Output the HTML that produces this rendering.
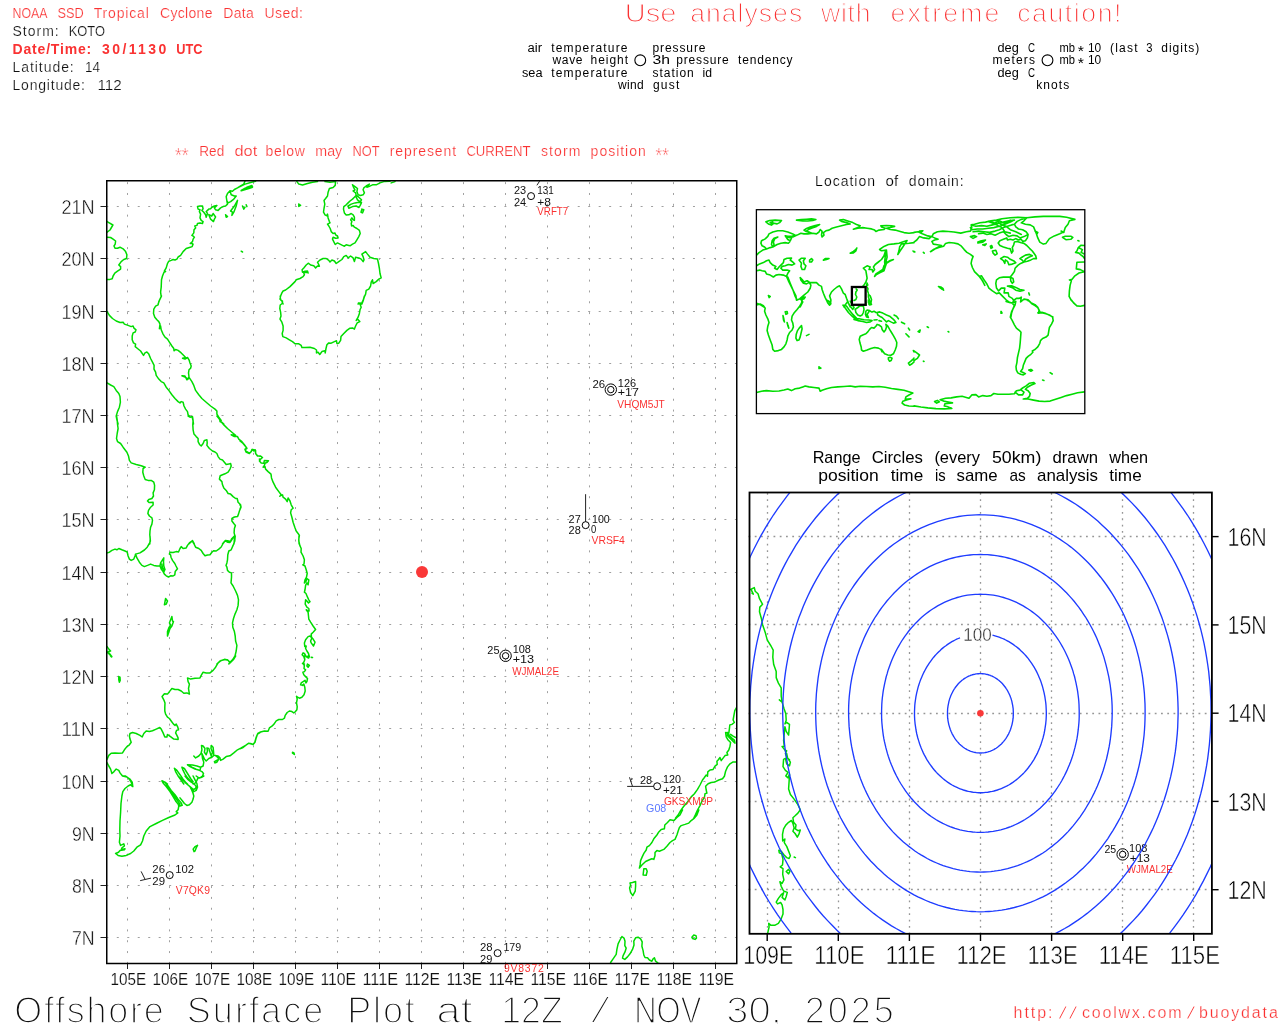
<!DOCTYPE html>
<html lang="en"><head><meta charset="utf-8"><title>Offshore Surface Plot</title>
<style>
html,body{margin:0;padding:0;background:#fff;}
body{width:1280px;height:1024px;overflow:hidden;}
svg{display:block;}
text{font-family:"Liberation Sans",sans-serif;white-space:pre;}
.g{fill:none;stroke:#00dc00;stroke-width:1.5;stroke-linejoin:round;stroke-linecap:round;}
.gw{fill:none;stroke:#00dc00;stroke-width:1.6;stroke-linejoin:round;stroke-linecap:round;}
.dot{fill:none;stroke:#a0a0a0;stroke-width:1;}
.dot2{fill:none;stroke:#969696;stroke-width:1.3;}
.k{fill:none;stroke:#000;}
.b{fill:none;stroke:#1e3cff;stroke-width:1.35;}
</style></head><body>
<svg width="1280" height="1024" viewBox="0 0 1280 1024">
<rect x="0" y="0" width="1280" height="1024" fill="#fff"/>

<g id="header">
<text x="12.5" y="17.5" font-size="14" fill="#fa3232" textLength="35" lengthAdjust="spacingAndGlyphs" stroke="#fff" stroke-width="0.2" paint-order="fill stroke" style="paint-order:fill stroke">NOAA</text>
<text x="57.5" y="17.5" font-size="14" fill="#fa3232" textLength="26.25" lengthAdjust="spacingAndGlyphs" stroke="#fff" stroke-width="0.2" paint-order="fill stroke" style="paint-order:fill stroke">SSD</text>
<text x="93.75" y="17.5" font-size="14" fill="#fa3232" textLength="55" lengthAdjust="spacing" stroke="#fff" stroke-width="0.2" paint-order="fill stroke" style="paint-order:fill stroke">Tropical</text>
<text x="160" y="17.5" font-size="14" fill="#fa3232" textLength="52.5" lengthAdjust="spacing" stroke="#fff" stroke-width="0.2" paint-order="fill stroke" style="paint-order:fill stroke">Cyclone</text>
<text x="223.25" y="17.5" font-size="14" fill="#fa3232" textLength="30.5" lengthAdjust="spacing" stroke="#fff" stroke-width="0.2" paint-order="fill stroke" style="paint-order:fill stroke">Data</text>
<text x="264.5" y="17.5" font-size="14" fill="#fa3232" textLength="38.5" lengthAdjust="spacing" stroke="#fff" stroke-width="0.2" paint-order="fill stroke" style="paint-order:fill stroke">Used:</text>
<text x="12.5" y="35.5" font-size="14" fill="#111" textLength="46.25" lengthAdjust="spacing" stroke="#fff" stroke-width="0.2" paint-order="fill stroke" style="paint-order:fill stroke">Storm:</text>
<text x="68.75" y="35.5" font-size="14" fill="#111" textLength="36.25" lengthAdjust="spacingAndGlyphs" stroke="#fff" stroke-width="0.2" paint-order="fill stroke" style="paint-order:fill stroke">KOTO</text>
<text x="12.5" y="53.6" font-size="14" fill="#fa3232" textLength="78.75" lengthAdjust="spacing" font-weight="bold">Date/Time:</text>
<text x="102" y="53.6" font-size="14" fill="#fa3232" textLength="64.25" lengthAdjust="spacing" font-weight="bold">30/1130</text>
<text x="176.25" y="53.6" font-size="14" fill="#fa3232" textLength="26.25" lengthAdjust="spacingAndGlyphs" font-weight="bold">UTC</text>
<text x="12.5" y="71.6" font-size="14" fill="#111" textLength="61.25" lengthAdjust="spacing" stroke="#fff" stroke-width="0.2" paint-order="fill stroke" style="paint-order:fill stroke">Latitude:</text>
<text x="85" y="71.6" font-size="14" fill="#111" textLength="15" lengthAdjust="spacingAndGlyphs" stroke="#fff" stroke-width="0.2" paint-order="fill stroke" style="paint-order:fill stroke">14</text>
<text x="12.5" y="89.5" font-size="14" fill="#111" textLength="72.5" lengthAdjust="spacing" stroke="#fff" stroke-width="0.2" paint-order="fill stroke" style="paint-order:fill stroke">Longitude:</text>
<text x="97.5" y="89.5" font-size="14" fill="#111" textLength="24.25" lengthAdjust="spacingAndGlyphs" stroke="#fff" stroke-width="0.2" paint-order="fill stroke" style="paint-order:fill stroke">112</text>
<text x="624.8" y="21.7" font-size="26.6" fill="#fa3232" textLength="51.7" lengthAdjust="spacingAndGlyphs" stroke="#fff" stroke-width="1.15" paint-order="fill stroke" style="paint-order:fill stroke">Use</text>
<text x="690.2" y="21.7" font-size="26.6" fill="#fa3232" textLength="112" lengthAdjust="spacing" stroke="#fff" stroke-width="1.15" paint-order="fill stroke" style="paint-order:fill stroke">analyses</text>
<text x="821" y="21.7" font-size="26.6" fill="#fa3232" textLength="49.5" lengthAdjust="spacing" stroke="#fff" stroke-width="1.15" paint-order="fill stroke" style="paint-order:fill stroke">with</text>
<text x="890.5" y="21.7" font-size="26.6" fill="#fa3232" textLength="108.7" lengthAdjust="spacing" stroke="#fff" stroke-width="1.15" paint-order="fill stroke" style="paint-order:fill stroke">extreme</text>
<text x="1017.2" y="21.7" font-size="26.6" fill="#fa3232" textLength="104.3" lengthAdjust="spacing" stroke="#fff" stroke-width="1.15" paint-order="fill stroke" style="paint-order:fill stroke">caution!</text>
<text x="527.5" y="52.3" font-size="12" fill="#000" textLength="14.5" lengthAdjust="spacingAndGlyphs">air</text>
<text x="551.25" y="52.3" font-size="12" fill="#000" textLength="76.25" lengthAdjust="spacing">temperature</text>
<text x="652.5" y="52.3" font-size="12" fill="#000" textLength="53" lengthAdjust="spacing">pressure</text>
<text x="552.5" y="64.3" font-size="12" fill="#000" textLength="30" lengthAdjust="spacing">wave</text>
<text x="590.5" y="64.3" font-size="12" fill="#000" textLength="37.5" lengthAdjust="spacing">height</text>
<text x="652.5" y="64.3" font-size="12" fill="#000" textLength="17.5" lengthAdjust="spacingAndGlyphs">3h</text>
<text x="676.25" y="64.3" font-size="12" fill="#000" textLength="52.5" lengthAdjust="spacing">pressure</text>
<text x="738" y="64.3" font-size="12" fill="#000" textLength="54.5" lengthAdjust="spacing">tendency</text>
<text x="522" y="76.5" font-size="12" fill="#000" textLength="20.5" lengthAdjust="spacingAndGlyphs">sea</text>
<text x="551.25" y="76.5" font-size="12" fill="#000" textLength="76.25" lengthAdjust="spacing">temperature</text>
<text x="652.5" y="76.5" font-size="12" fill="#000" textLength="41.25" lengthAdjust="spacing">station</text>
<text x="702.5" y="76.5" font-size="12" fill="#000" textLength="9.5" lengthAdjust="spacingAndGlyphs">id</text>
<text x="618" y="88.5" font-size="12" fill="#000" textLength="25.75" lengthAdjust="spacing">wind</text>
<text x="653" y="88.5" font-size="12" fill="#000" textLength="26.25" lengthAdjust="spacing">gust</text>
<circle cx="640.25" cy="60.3" r="5.4" class="k" stroke-width="1.1"/>
<text x="997.5" y="52.3" font-size="12" fill="#000" textLength="21.25" lengthAdjust="spacingAndGlyphs">deg</text>
<text x="1028" y="52.3" font-size="12" fill="#000" textLength="7" lengthAdjust="spacingAndGlyphs">C</text>
<text x="1059.5" y="52.3" font-size="12" fill="#000" textLength="15.5" lengthAdjust="spacingAndGlyphs">mb</text>
<text x="1088" y="52.3" font-size="12" fill="#000" textLength="13.25" lengthAdjust="spacingAndGlyphs">10</text>
<text x="1110" y="52.3" font-size="12" fill="#000" textLength="27.5" lengthAdjust="spacing">(last</text>
<text x="1146.25" y="52.3" font-size="12" fill="#000" textLength="6.25" lengthAdjust="spacingAndGlyphs">3</text>
<text x="1161.25" y="52.3" font-size="12" fill="#000" textLength="38" lengthAdjust="spacing">digits)</text>
<text x="992.5" y="64.3" font-size="12" fill="#000" textLength="42.5" lengthAdjust="spacing">meters</text>
<text x="1059.5" y="64.3" font-size="12" fill="#000" textLength="15.5" lengthAdjust="spacingAndGlyphs">mb</text>
<text x="1088" y="64.3" font-size="12" fill="#000" textLength="13.25" lengthAdjust="spacingAndGlyphs">10</text>
<text x="1077.8" y="56.1" font-size="14.7" fill="#000" textLength="6.2" lengthAdjust="spacingAndGlyphs">*</text>
<text x="1077.8" y="68.1" font-size="14.7" fill="#000" textLength="6.2" lengthAdjust="spacingAndGlyphs">*</text>
<text x="997.5" y="76.5" font-size="12" fill="#000" textLength="21.25" lengthAdjust="spacingAndGlyphs">deg</text>
<text x="1028" y="76.5" font-size="12" fill="#000" textLength="7" lengthAdjust="spacingAndGlyphs">C</text>
<text x="1036.25" y="88.5" font-size="12" fill="#000" textLength="33" lengthAdjust="spacing">knots</text>
<circle cx="1047.5" cy="60.3" r="5.4" class="k" stroke-width="1.1"/>
<text x="175" y="162.2" font-size="20.5" fill="#fa3232" textLength="13.75" lengthAdjust="spacingAndGlyphs" stroke="#fff" stroke-width="0.5" paint-order="fill stroke" style="paint-order:fill stroke">**</text>
<text x="655.6" y="162.2" font-size="20.5" fill="#fa3232" textLength="13.4" lengthAdjust="spacingAndGlyphs" stroke="#fff" stroke-width="0.5" paint-order="fill stroke" style="paint-order:fill stroke">**</text>
<text x="199.3" y="155.9" font-size="14" fill="#fa3232" textLength="24.9" lengthAdjust="spacingAndGlyphs" stroke="#fff" stroke-width="0.2" paint-order="fill stroke" style="paint-order:fill stroke">Red</text>
<text x="234.5" y="155.9" font-size="14" fill="#fa3232" textLength="22.8" lengthAdjust="spacingAndGlyphs" stroke="#fff" stroke-width="0.2" paint-order="fill stroke" style="paint-order:fill stroke">dot</text>
<text x="265.6" y="155.9" font-size="14" fill="#fa3232" textLength="39.3" lengthAdjust="spacing" stroke="#fff" stroke-width="0.2" paint-order="fill stroke" style="paint-order:fill stroke">below</text>
<text x="315.3" y="155.9" font-size="14" fill="#fa3232" textLength="26.9" lengthAdjust="spacingAndGlyphs" stroke="#fff" stroke-width="0.2" paint-order="fill stroke" style="paint-order:fill stroke">may</text>
<text x="352.5" y="155.9" font-size="14" fill="#fa3232" textLength="27" lengthAdjust="spacingAndGlyphs" stroke="#fff" stroke-width="0.2" paint-order="fill stroke" style="paint-order:fill stroke">NOT</text>
<text x="389.8" y="155.9" font-size="14" fill="#fa3232" textLength="66.3" lengthAdjust="spacing" stroke="#fff" stroke-width="0.2" paint-order="fill stroke" style="paint-order:fill stroke">represent</text>
<text x="466.4" y="155.9" font-size="14" fill="#fa3232" textLength="64.2" lengthAdjust="spacingAndGlyphs" stroke="#fff" stroke-width="0.2" paint-order="fill stroke" style="paint-order:fill stroke">CURRENT</text>
<text x="541" y="155.9" font-size="14" fill="#fa3232" textLength="39.3" lengthAdjust="spacing" stroke="#fff" stroke-width="0.2" paint-order="fill stroke" style="paint-order:fill stroke">storm</text>
<text x="590.6" y="155.9" font-size="14" fill="#fa3232" textLength="55.2" lengthAdjust="spacing" stroke="#fff" stroke-width="0.2" paint-order="fill stroke" style="paint-order:fill stroke">position</text>
<text x="815.1" y="186" font-size="14" fill="#000" textLength="59.9" lengthAdjust="spacing" stroke="#fff" stroke-width="0.2" paint-order="fill stroke" style="paint-order:fill stroke">Location</text>
<text x="885.6" y="186" font-size="14" fill="#000" textLength="12.6" lengthAdjust="spacingAndGlyphs" stroke="#fff" stroke-width="0.2" paint-order="fill stroke" style="paint-order:fill stroke">of</text>
<text x="908.8" y="186" font-size="14" fill="#000" textLength="54.8" lengthAdjust="spacing" stroke="#fff" stroke-width="0.2" paint-order="fill stroke" style="paint-order:fill stroke">domain:</text>
</g>
<defs><clipPath id="cm"><rect x="106.75" y="180.75" width="630" height="782.75"/></clipPath>
<clipPath id="cr"><rect x="749.5" y="492.5" width="462.4" height="441.3"/></clipPath>
<clipPath id="cw"><rect x="756.4" y="209.7" width="328.4" height="203.9"/></clipPath></defs>
<g id="maingrid" class="dot">
<path d="M106.32 937.5H736" stroke-dasharray="2 8.476"/>
<path d="M106.32 885.5H736" stroke-dasharray="2 8.476"/>
<path d="M106.32 833.5H736" stroke-dasharray="2 8.476"/>
<path d="M106.32 781.5H736" stroke-dasharray="2 8.476"/>
<path d="M106.32 728.5H736" stroke-dasharray="2 8.476"/>
<path d="M106.32 676.5H736" stroke-dasharray="2 8.476"/>
<path d="M106.32 624.5H736" stroke-dasharray="2 8.476"/>
<path d="M106.32 572.5H736" stroke-dasharray="2 8.476"/>
<path d="M106.32 519.5H736" stroke-dasharray="2 8.476"/>
<path d="M106.32 467.5H736" stroke-dasharray="2 8.476"/>
<path d="M106.32 415.5H736" stroke-dasharray="2 8.476"/>
<path d="M106.32 363.5H736" stroke-dasharray="2 8.476"/>
<path d="M106.32 311.5H736" stroke-dasharray="2 8.476"/>
<path d="M106.32 258.5H736" stroke-dasharray="2 8.476"/>
<path d="M106.32 206.5H736" stroke-dasharray="2 8.476"/>
<path d="M127.5 963.9V180" stroke-dasharray="2 8.83" stroke-dashoffset="0"/>
<path d="M169.5 963.9V180" stroke-dasharray="2 8.83" stroke-dashoffset="0"/>
<path d="M211.5 963.9V180" stroke-dasharray="2 8.83" stroke-dashoffset="0"/>
<path d="M253.5 963.9V180" stroke-dasharray="2 8.83" stroke-dashoffset="0"/>
<path d="M295.5 963.9V180" stroke-dasharray="2 8.83" stroke-dashoffset="0"/>
<path d="M337.5 963.9V180" stroke-dasharray="2 8.83" stroke-dashoffset="0"/>
<path d="M379.5 963.9V180" stroke-dasharray="2 8.83" stroke-dashoffset="0"/>
<path d="M421.5 963.9V180" stroke-dasharray="2 8.83" stroke-dashoffset="0"/>
<path d="M463.5 963.9V180" stroke-dasharray="2 8.83" stroke-dashoffset="0"/>
<path d="M505.5 963.9V180" stroke-dasharray="2 8.83" stroke-dashoffset="0"/>
<path d="M547.5 963.9V180" stroke-dasharray="2 8.83" stroke-dashoffset="0"/>
<path d="M589.5 963.9V180" stroke-dasharray="2 8.83" stroke-dashoffset="0"/>
<path d="M631.5 963.9V180" stroke-dasharray="2 8.83" stroke-dashoffset="0"/>
<path d="M673.5 963.9V180" stroke-dasharray="2 8.83" stroke-dashoffset="0"/>
<path d="M715.5 963.9V180" stroke-dasharray="2 8.83" stroke-dashoffset="0"/>
</g>
<g id="maincoast" clip-path="url(#cm)">
<path class="g" d="M107.1 221.6L112.9 225.0L110.0 230.0L107.1 232.2M107.1 237.2L110.6 237.5L113.1 239.1L115.6 241.0L115.2 244.1L114.0 246.0L115.0 248.2L117.5 248.2L120.0 247.2L123.1 248.8L125.6 251.6L126.9 254.8L126.5 258.5L123.8 259.5L121.2 261.6L118.8 265.0L120.6 266.6L120.6 269.1L117.5 271.2L114.8 273.2L113.1 276.0L112.2 278.8L110.0 279.4L107.1 279.4M158.1 304.0L159.4 300.4L161.2 296.6L160.6 292.2L161.2 287.2L161.5 279.8L162.5 276.0L164.0 272.2L165.6 271.6L164.4 271.0L166.2 267.9L167.5 263.5L168.8 261.2L171.2 260.4L173.1 259.5L175.0 260.0L176.9 259.1L178.1 257.0L180.6 255.4L183.1 251.6L186.2 248.5L189.4 247.5L192.2 246.6L193.1 244.1L191.9 243.5L190.2 243.5L192.5 241.6L193.1 239.1L194.4 237.2L193.1 236.0L191.9 235.4L193.8 232.9L194.0 229.8L195.6 227.9L194.8 226.0L196.9 225.4L197.5 223.5L200.0 222.9L202.5 223.5L203.1 221.6L201.2 220.4L200.0 217.9L200.6 214.1L199.4 211.6L200.0 209.8L198.1 209.1L197.5 206.6L200.0 206.0L202.5 206.0L203.1 208.8L201.9 210.4L203.8 212.2L205.6 214.8L206.2 217.2L207.5 213.5L206.2 211.6L208.8 209.1L210.6 208.8L211.9 207.2L214.4 206.0L216.9 205.4L214.4 207.9L215.6 209.8L218.1 210.4L220.6 207.9L223.1 206.6L225.6 206.0L227.5 204.1L226.9 201.0L226.2 196.6L227.5 193.5L230.0 190.8L232.5 191.2L234.4 189.5L237.5 187.9L240.6 186.0L243.8 184.1L245.0 181.0M208.8 214.8L211.9 216.0L213.1 213.5L215.6 217.0L214.4 219.1L213.5 221.6L210.6 219.1L208.8 214.8M230.0 190.8L231.2 194.8L234.4 196.0L236.2 196.0L233.8 199.1L230.6 201.6L228.1 202.9L226.9 201.0M237.5 200.4L236.2 206.0L233.8 212.2L231.9 215.4L232.5 212.2L230.6 211.0L234.4 206.0L237.5 200.4M225.6 214.8L227.5 216.6L226.2 217.2L225.6 214.8M242.5 206.0L243.8 209.1L245.0 207.2M246.2 204.8L246.9 206.6M241.2 190.4L245.6 187.9L247.5 188.5L243.8 190.0L241.2 190.4M246.9 187.2L251.9 185.4L252.5 187.2L248.8 188.5L246.9 187.2M241.2 251.2L242.5 252.0M240.0 186.6L245.0 184.1L252.5 182.0L255.6 181.2M241.2 190.8L246.2 188.2L252.5 186.6L248.8 188.5L241.2 190.8M298.8 204.1L300.6 205.4L298.8 206.4L298.8 204.1M296.9 181.6L298.8 184.1L302.5 185.0L307.5 183.5L312.5 182.2L317.5 181.6M325.0 181.6L330.0 182.2L335.6 181.6L335.2 185.4L333.1 187.5L329.4 188.5L328.1 192.2L327.5 196.0L325.6 198.5L324.0 200.4L324.8 204.1L324.0 208.5L323.5 212.2L325.0 214.8L326.9 215.8L327.5 214.1L328.1 217.9L329.4 221.6L330.0 222.9L327.5 224.1L328.8 226.0L330.2 228.5L331.2 231.6L333.1 233.5L335.0 232.9L335.6 234.8L337.5 236.0L338.1 237.9L335.6 238.2L333.1 237.2L332.5 239.1L334.0 242.2L335.2 244.5L337.5 242.9L340.0 244.1L342.5 245.4L344.4 246.2L346.2 244.8L348.8 245.4L350.0 245.8L352.5 244.1L355.0 242.9L356.9 239.8L358.8 236.6L360.2 233.5L359.4 230.4L356.9 228.5L354.4 227.2L353.1 225.4L351.6 226.0L351.2 223.5L351.9 221.6L350.6 219.8L351.9 217.9L353.1 219.8L354.4 220.4L354.4 217.2L353.1 214.8L351.2 213.5L348.8 214.8L346.2 215.0L344.4 212.9L343.5 209.1L343.8 206.6L346.2 204.8L348.1 202.9L350.0 201.0L352.5 199.1L354.4 197.2L356.2 195.4L355.6 192.9L353.1 191.0L355.0 189.8L353.8 187.9L352.5 184.8L355.0 186.6L357.5 188.5L356.9 191.6L358.1 194.8L360.6 195.4L363.1 194.8L364.4 192.9L363.1 189.8L363.8 187.9L366.2 186.0L369.4 184.1L366.9 187.2L368.8 186.6L372.5 184.8L376.2 184.8L380.0 182.9L383.8 181.6M356.2 195.4L358.8 197.2L361.5 199.8L360.2 201.9L357.5 199.8L356.2 197.2M348.1 206.0L351.2 204.1L355.0 202.9L358.8 202.2L361.5 202.6L360.2 205.4L359.0 207.5L356.2 206.0L352.5 206.6L348.8 208.2L348.1 206.0M361.9 209.1L363.8 209.8L362.5 212.9L361.0 212.2L361.9 209.1M385.0 181.6L390.0 181.2M391.2 182.9L395.0 181.6M283.1 304.0L281.9 301.0L280.0 299.1L280.6 296.0L281.9 292.9L283.1 291.0L285.6 290.0L290.0 286.6L295.0 281.6L296.2 279.8L300.0 278.5L303.1 276.6L304.4 274.8L303.8 272.9L306.2 272.2L308.1 272.9L307.5 271.0L305.0 271.2L302.5 272.2L302.1 269.8L303.8 267.9L306.2 265.0L308.5 263.2L310.6 265.0L313.8 265.8L315.6 267.9L317.5 266.0L319.4 266.2L318.5 264.1L317.5 262.2L320.0 260.0L323.1 258.5L326.2 258.5L328.8 260.4L330.0 262.0L331.9 260.0L334.4 261.0L336.2 263.5L338.8 261.6L341.9 259.5L343.8 256.6L346.2 255.4L348.1 257.9L350.6 256.0L353.1 257.9L354.4 261.6L355.6 257.2L358.8 257.9L361.2 259.1L363.1 261.6L364.0 259.8L363.1 256.6L361.9 254.1L365.6 251.6L367.5 254.1L370.0 257.2L373.8 258.5L377.5 259.1L378.5 263.5L379.4 268.5L380.0 273.5L381.2 277.9L378.8 279.1L376.2 281.6L373.1 283.5L372.5 279.8L371.2 282.2L370.6 286.0L368.8 289.1L366.2 290.4L365.6 294.1L364.4 296.6L363.1 301.0L361.9 304.0M358.1 304.0L360.0 302.9L361.9 304.0M161.5 296.0L160.0 299.1L158.8 301.6L158.1 304.8L155.6 306.2L153.8 309.1L153.5 313.5L154.8 317.2L156.9 319.8L158.8 321.6L160.0 324.1L159.4 328.8L160.6 326.0L161.2 329.8L163.1 334.1L165.0 337.2L167.5 339.1L169.4 342.2L171.9 346.0L173.8 348.5L174.0 350.8L175.6 349.5L178.1 350.4L181.2 352.9L184.0 355.8L185.6 357.5L182.5 358.2L185.0 359.1L187.5 357.5L189.0 359.8L190.0 362.9L191.2 366.0L190.6 368.2L189.0 369.8L188.5 372.9L189.0 377.0L187.5 379.1L185.6 377.2L181.9 375.8L185.0 376.0L186.9 379.8L189.4 377.9L191.9 381.6L193.8 385.4L195.6 390.4L198.8 394.8L201.9 398.5L206.2 402.2L210.6 406.0L215.0 409.1L216.9 411.0L216.9 414.1L218.8 417.2L221.2 420.4L220.0 421.6L221.9 422.2L223.8 424.0M107.1 311.6L109.4 315.4L112.5 318.5L116.2 321.0L120.0 322.5L123.1 322.2L124.4 324.1L128.1 325.4L131.2 326.6L133.1 326.0L134.0 328.2L136.0 329.8L135.2 332.0L133.1 332.9L132.2 336.0L132.2 339.8L133.5 342.9L135.6 344.1L135.2 346.6L137.5 348.5L140.6 351.0L143.5 355.4L145.0 352.9L146.9 352.0L148.8 354.1L150.6 358.5L152.5 362.2L154.1 365.4L154.0 369.1L155.6 372.2L156.2 375.4L158.8 379.1L161.2 381.6L163.8 382.9L166.2 387.2L168.8 390.4L171.9 394.8L175.0 398.5L178.1 401.6L180.0 402.9L181.2 401.6L183.1 402.2L184.0 406.0L185.6 409.1L187.5 411.6L188.1 414.8L190.0 416.6L192.2 417.2L193.1 421.0L193.5 424.0M107.1 382.9L110.6 385.0L113.8 386.6L116.2 390.4L118.8 393.5L120.0 396.6L120.4 402.2L119.4 407.2L117.5 411.6L116.2 416.0L116.9 419.8L118.1 424.0M280.2 296.0L280.6 299.8L282.5 301.2L282.2 303.5L280.2 305.0L279.8 308.5L280.6 312.2L281.0 316.0L280.0 319.1L281.9 322.2L283.1 326.0L283.1 330.4L282.2 333.5L282.8 336.6L286.2 337.9L289.4 339.8L292.5 341.6L295.0 343.8L298.8 343.8L301.2 345.4L301.9 347.5L305.0 347.5L310.0 347.2L314.4 348.5L316.5 350.0L316.5 352.9L318.1 352.2L319.8 354.5L321.9 351.6L325.0 350.8L325.2 352.9L326.0 348.5L326.9 344.8L328.8 342.9L331.2 343.2L334.4 341.6L336.5 340.8L336.9 343.5L338.8 343.2L340.6 340.4L341.0 336.6L343.8 333.5L346.9 330.4L350.0 328.2L352.5 327.9L354.4 329.1L355.6 326.0L357.2 322.9L359.8 321.6L357.5 319.1L356.2 320.4L358.1 317.2L359.4 313.5L360.0 309.8L361.2 307.2L360.0 304.1L358.5 302.9L361.2 304.1L363.1 300.4L364.4 296.0M116.6 416.0L117.2 419.8L117.5 424.1L118.1 428.5L117.2 433.5L116.5 438.5L117.5 441.6L120.6 443.5L123.1 447.2L126.9 452.2L128.5 456.0L129.4 460.4L131.2 462.9L136.2 464.5L141.2 465.8L145.2 467.2L143.1 468.5L142.8 472.2L143.8 476.0L145.2 479.5L148.1 480.4L151.2 480.4L153.8 482.2L154.6 485.4L154.4 489.8L153.1 492.9L153.5 496.0L151.9 498.5L148.8 499.5L147.5 501.0L149.0 502.5L153.1 502.2L153.1 505.0L150.6 507.2L148.5 510.4L147.9 513.5L149.4 516.0L151.9 517.9L152.5 520.4L151.9 524.1L150.6 527.2L150.0 531.0L149.8 534.8L150.2 539.1L149.8 544.0M188.1 416.0L190.0 417.2L192.5 416.6L193.1 420.4L192.8 424.8L193.1 429.8L194.0 434.1L196.2 436.6L198.1 438.5L198.1 441.6L199.8 444.8L201.2 446.0L203.1 443.5L204.4 440.4L206.9 439.8L207.2 442.9L206.9 445.4L209.4 448.5L212.5 451.0L215.0 452.0L216.9 453.5L218.1 456.6L220.0 459.1L222.5 460.0L224.4 462.2L226.2 464.5L228.8 464.1L230.6 463.5L231.2 466.0L230.0 469.1L228.1 472.2L225.0 473.8L221.9 475.0L220.2 475.8L219.4 479.1L221.9 481.6L222.5 484.8L223.8 487.9L226.2 490.4L228.1 493.5L230.6 494.1L233.1 496.6L235.6 498.5L237.2 498.5L238.1 502.2L240.6 504.8L241.0 507.2L239.4 511.0L238.5 514.1L237.5 516.6L234.4 517.0L231.9 518.5L231.9 521.0L233.8 523.5L235.4 525.4L234.4 528.5L234.1 532.9L235.0 536.0L234.4 539.1L234.0 544.0M235.0 536.0L232.5 538.5L230.6 541.6L228.8 541.0L225.6 540.4L223.8 542.2L222.5 544.0M188.8 544.0L192.5 540.6L193.8 542.9L194.4 544.0M216.9 416.0L219.4 419.1L220.6 422.0L220.0 420.4L223.1 424.1L227.5 428.5L231.9 432.2L235.6 435.4L231.2 434.8L234.4 436.6L237.5 436.6L238.8 439.1L241.9 441.6L244.4 444.8L246.9 448.2L245.0 449.1L245.6 451.0L249.4 453.2L251.2 451.6L251.9 449.5L254.4 449.8L255.6 450.4L255.6 453.5L257.5 455.8L260.0 456.2M259.4 459.1L260.0 461.6M240.0 441.0L243.1 443.5L245.6 446.6L246.9 448.5L245.0 449.5L246.0 452.0L249.4 453.5L251.2 451.6L252.1 449.5L253.8 451.0L255.2 449.8L255.6 453.5L257.5 456.0L260.6 456.0L262.5 457.5L260.6 459.1L259.4 461.0L261.2 462.9L263.8 463.2L264.4 460.4L268.5 460.8L267.2 462.2L265.0 463.2L264.4 465.4L263.1 467.2L265.0 466.6L265.6 469.1L268.1 471.6L271.0 474.1L271.5 477.9L273.1 482.2L275.6 487.2L278.8 491.6L281.2 494.8L279.8 496.2L282.5 494.8L283.1 497.2L285.6 499.1L287.2 501.6L288.1 497.9L290.0 501.0L291.2 504.8L293.1 508.2L291.2 509.8L290.6 512.9L291.9 517.2L293.1 522.2L294.8 527.2L296.2 531.0L298.1 533.5L299.4 535.4L298.8 539.1L299.1 544.0M240.0 504.8L241.0 506.6L240.0 509.1M107.1 552.9L109.4 552.2L111.9 550.4L115.0 549.1L116.9 549.8L118.8 548.5L121.9 549.8L125.0 551.0L127.2 552.0L128.1 556.0L129.4 559.1L131.2 560.4L133.8 559.1L135.0 556.0L135.6 554.1L140.0 552.9L144.4 550.0L147.2 547.2L149.4 543.5L150.4 541.0L150.0 536.0M135.6 554.1L136.9 557.9L139.4 562.2L141.9 565.4L144.4 566.6L147.5 565.4L150.6 564.1L153.8 565.4L156.9 566.0L160.0 566.0L160.6 562.9L162.5 559.8L163.8 557.9L163.5 561.6L163.8 566.0L165.0 569.8L163.1 571.6L161.2 569.1L160.0 566.0M161.9 564.1L162.5 567.9L164.4 570.4L163.8 572.2L161.9 569.8L161.9 564.1M163.1 571.6L164.4 574.1L166.2 575.8L168.5 577.0L170.6 575.8L173.1 576.0L174.8 574.8L175.2 571.6L177.5 568.8L176.0 566.0L174.8 563.5L172.5 560.4L171.0 557.2L170.6 554.8L169.4 554.1L170.0 552.2L173.1 552.5L176.2 551.6L178.5 552.0L180.0 548.5L181.2 546.6L183.1 548.5L186.2 547.9L187.5 545.4L189.4 542.9L192.2 540.8L193.8 543.5L195.6 547.2L198.8 548.5L201.2 550.4L203.1 553.5L205.0 555.8L207.5 555.0L210.0 554.8L211.9 552.2L213.5 550.8L216.2 551.0L218.8 549.1L221.2 547.0L223.1 543.5L225.2 540.8L227.5 542.2L230.0 542.5L231.5 539.1L234.4 536.0M235.2 536.0L234.8 541.0L233.1 545.4L231.2 549.8L228.8 551.0L227.8 554.8L227.5 559.8L226.9 562.9L226.0 565.4L226.9 567.2L227.5 570.4L229.4 572.2L231.5 572.9L231.5 577.2L231.0 582.9L233.1 586.0L235.6 591.0L237.5 595.4L238.5 599.8L238.1 605.4L236.9 609.8L235.0 614.1L233.5 618.5L232.5 622.9L232.8 627.2L234.4 631.6L235.2 636.0L235.6 641.0L236.9 645.4L236.2 651.0L235.0 656.0L232.5 659.8L230.0 662.2L228.8 664.0M216.9 664.0L220.0 661.0L224.4 659.5L227.5 659.8L230.0 662.2M165.6 598.5L167.5 601.0L166.2 604.1L164.4 604.8L165.6 598.5M171.9 616.6L172.5 621.0L173.5 621.6L171.9 626.0L170.0 628.5L168.8 632.2L167.5 636.0L167.5 631.6L168.8 627.9L170.6 624.8L169.4 622.9L170.6 619.8L171.9 616.6M107.1 646.6L108.8 649.1L110.6 651.0L108.1 651.6L110.0 654.1L111.9 656.6L109.4 654.1L107.1 652.2M299.0 536.0L298.8 541.0L299.8 545.4L301.2 548.5L301.0 552.2L303.1 556.0L304.4 559.8L304.0 564.1L302.8 564.8L305.0 566.0L306.2 569.8L307.2 573.5L306.5 577.2L305.0 579.8L304.4 582.9L306.2 581.0L306.9 578.5L308.8 579.8L308.1 584.8L306.9 582.9L305.6 585.4L305.0 589.8L304.4 592.2L306.0 593.5L307.5 597.2L308.8 599.8L310.0 601.6L308.5 602.9L306.9 601.0L305.6 599.8L305.2 604.1L306.9 607.2L308.8 608.5L309.1 611.0L307.5 610.4L306.2 609.8L308.1 612.2L308.5 616.0L308.8 619.1L310.6 622.2L313.1 626.0L315.6 629.5L313.1 632.2L311.2 634.1L311.5 637.2L313.1 639.1L315.0 642.2L313.5 646.0L311.2 642.9L310.6 641.0L311.9 637.9L310.0 636.0L308.1 636.6L305.6 639.8L304.4 642.9L304.8 646.6L306.2 646.0L305.6 648.5L306.9 651.0L308.5 653.5L309.4 656.6L308.1 657.9L306.2 656.6L304.4 653.5L303.1 652.9L302.1 654.8L303.8 656.6L304.8 659.8L303.8 662.2L302.5 663.5L304.4 664.0M311.2 657.2L312.5 657.5M235.6 656.0L233.8 659.1L230.0 662.9L228.1 660.4L225.0 659.5L221.2 660.4L218.1 662.9L215.6 667.2L213.1 670.4L210.0 672.9L206.2 672.9L203.1 672.2L201.2 675.4L200.0 677.9L195.0 678.2L190.6 679.1L187.5 677.9L188.1 681.6L189.4 684.1L188.5 688.5L189.0 691.6L189.4 694.1L186.9 692.9L183.8 693.2L181.2 691.0L178.1 689.5L175.0 689.5L171.9 688.5L169.4 691.6L167.5 694.1L164.4 693.8L162.1 696.6L163.8 699.8L165.0 702.9L164.8 707.2L164.8 711.0L165.6 714.1L167.5 717.2L169.4 718.5L171.2 721.0L173.5 724.1L175.0 725.4L176.2 724.1L177.8 727.2L178.5 729.8L176.5 730.4L175.6 732.9L176.9 735.4L178.1 737.9L178.1 739.5L173.8 739.1L171.2 737.2L168.8 735.4L167.5 734.5L166.9 737.0L164.8 737.0L163.1 732.9L161.2 729.1L159.8 727.5L156.2 729.1L152.5 730.8L149.4 731.6L146.2 731.0L143.8 733.5L142.2 737.0L140.0 735.4L136.2 733.5L132.5 732.5L130.0 733.5L129.4 736.0L130.0 739.1L131.2 742.2L129.4 744.8L126.9 746.6L124.4 749.8L122.5 752.9L118.8 753.2L115.0 752.9L111.2 753.2L108.8 755.4L107.1 759.1M107.1 762.9L108.8 766.0L110.6 769.1L111.9 773.5L114.0 771.6L116.2 769.1L118.8 770.4L120.0 772.9L122.5 776.0L125.6 776.0L128.1 777.9L130.6 781.0L131.9 784.0M118.8 676.6L120.0 677.2L120.2 680.4L119.4 682.2L118.8 679.8L118.8 676.6M110.6 656.0L111.5 657.0M260.0 732.5L257.5 734.1L256.2 737.9L255.0 742.2L253.1 744.5L248.8 743.2L245.6 745.4L241.2 747.9L237.5 749.8L233.8 752.9L230.0 755.8L226.2 756.6L223.1 759.1L220.6 760.4L220.0 757.9L218.1 756.0L215.0 755.4L217.5 757.2L218.8 759.1L216.9 762.2L215.0 762.9L214.4 761.6L217.5 759.8M193.8 756.0L195.6 757.9L198.8 756.0L201.0 753.5L201.9 749.8L201.5 745.4L203.1 746.0L205.0 748.5L204.4 752.2L206.2 754.8L207.5 751.0L206.9 747.9L208.8 748.5L210.0 752.2L211.2 756.0L212.5 752.2L211.0 748.5L211.2 745.4L213.1 747.2L213.5 751.0L213.8 755.4L211.9 757.2L208.8 758.5L206.2 761.0L204.4 759.1L203.1 756.0L201.9 753.5L202.5 758.5L203.8 762.2L203.1 766.0L200.6 767.2L196.9 766.0L192.5 765.0L187.5 764.8L191.9 767.2L196.2 769.1L200.0 770.4L200.6 767.9M187.5 764.8L190.0 766.6L195.0 769.1L199.4 770.4L201.9 771.6L203.5 773.5L202.5 776.0L200.0 777.9L198.1 777.9L196.9 780.4L195.6 782.9L193.1 784.0M181.9 767.2L184.4 768.5L187.5 773.5L190.6 778.5L193.1 781.6L190.6 781.0L187.5 777.9L185.0 774.1L183.1 770.4L181.9 767.2M187.5 784.0L186.2 782.9L183.1 779.1L180.0 774.8L176.9 770.4L174.4 768.2L175.6 771.6L178.1 776.0L181.2 780.4L183.8 784.0M161.9 781.0L165.0 782.2L167.5 784.0M304.4 656.0L304.8 659.8L303.8 662.2L302.8 663.5L304.4 665.4L304.0 668.5L305.6 669.8L304.4 671.6L302.9 672.2L303.8 674.8L305.6 676.6L307.5 678.5L306.9 681.6L306.0 682.9L305.0 680.4L303.1 681.6L301.2 682.9L300.6 684.8L302.5 685.4L303.8 684.1L304.8 687.2L305.2 691.0L304.0 694.8L301.9 697.2L299.4 698.2L297.5 697.2L296.5 696.2L297.2 699.1L296.5 702.9L297.2 706.6L296.9 709.8L295.0 712.0L293.8 712.9L291.9 711.6L289.4 711.0L287.2 712.5L285.2 715.4L284.4 718.2L282.5 719.5L278.8 719.5L276.2 720.8L274.0 724.1L271.9 726.2L269.4 727.9L268.1 731.2L264.4 731.0L260.6 732.0L257.8 733.5L256.2 737.2L254.8 742.2L253.1 744.5L250.6 743.5L248.1 743.5L245.0 746.0L242.5 747.9L240.0 748.8M307.5 664.1L309.4 665.4L308.1 667.2L306.9 666.0L307.5 664.1M306.9 656.6L308.8 657.9L308.1 656.0M311.5 657.5L312.2 657.6M292.5 752.2L294.0 752.9L294.4 754.5L292.5 753.2L292.5 752.2M122.5 776.0L126.9 777.0L130.0 779.1L132.2 782.2L132.8 786.6L130.6 784.8L128.1 786.0L125.0 788.5L122.8 791.6L121.9 796.0L121.0 803.5L120.6 812.2L120.0 821.0L119.8 829.8L120.0 836.0L119.4 842.2L120.6 845.4L123.8 843.8L124.4 846.0L121.9 847.9L121.2 849.8L125.0 848.8L124.4 849.8L120.0 850.4L118.5 852.2L115.6 853.5L118.1 855.4L121.9 856.2L126.2 855.4L130.6 853.5L133.8 851.0L136.9 847.2L140.6 844.8L142.5 841.0L143.8 836.0L146.2 831.0L150.0 826.6L156.2 823.5L162.5 820.4L168.8 817.5L175.0 815.0L177.8 812.9L176.2 811.6L178.1 809.8L178.8 806.0L178.1 804.1M161.9 780.8L165.0 782.2L168.1 786.0L171.2 790.4L175.0 794.8L178.1 799.1L181.2 802.9L182.2 805.4L180.0 806.0L178.1 804.1L175.6 801.0L173.1 796.6L170.0 791.6L166.2 786.6L163.1 782.9L161.9 780.8M165.0 782.2L170.0 789.8L175.0 797.2L180.0 804.1M178.1 776.0L182.5 779.8L186.2 783.5L190.0 786.6L193.5 789.5L195.6 788.5L196.2 786.6L194.4 784.1L191.2 782.2L187.5 779.1L185.0 776.0M190.0 786.6L191.9 790.4L193.1 793.5L193.8 796.0L193.1 799.1L191.9 802.2L189.4 804.8L186.9 805.4L184.4 803.5L182.5 801.0L180.0 797.9M193.1 776.0L195.0 779.8L196.9 783.5L197.5 787.2L196.2 790.4L193.8 791.6L192.5 789.5M196.2 776.0L198.8 777.9L201.9 777.2L203.8 776.0M197.5 845.4L196.2 847.9L195.0 851.0L194.0 851.6L193.1 849.1L195.0 846.6L197.5 845.4M736.9 706.9L734.8 710.6L734.0 715.0L733.1 720.0L734.4 722.5L731.9 724.4L729.8 725.0L729.4 728.8L728.8 733.1L725.6 732.5L726.2 736.9L728.1 740.0L730.6 742.5L730.0 746.2L728.8 750.0L726.9 752.5L727.8 755.0L725.0 755.6L723.1 758.1L721.2 760.6L720.0 757.5L718.1 760.0L716.9 761.2L717.2 764.4L715.0 766.2L713.1 769.4L710.0 770.0L707.8 771.9L707.5 776.2L706.2 775.0L704.4 777.5L702.5 780.0L700.0 785.0L697.5 789.4L694.4 793.8L691.2 796.9L687.5 801.9L683.8 806.2L680.6 810.6L678.1 815.0L675.6 818.0M727.5 732.5L729.4 735.6L731.9 738.1L734.4 740.0L735.0 743.1L732.5 740.6L730.0 738.1L727.5 735.6L727.5 732.5M730.6 734.4L733.1 736.2L735.6 737.5M736.9 761.9L733.1 761.9L730.0 763.8L727.5 766.9L725.6 771.2L724.4 776.2L722.5 778.8L718.8 780.0L715.0 781.9L711.2 782.5L708.1 783.8L705.6 786.2L706.2 790.0L706.9 793.1L705.0 793.8L704.4 797.5L701.9 801.2L700.0 805.6L697.5 810.0L695.6 814.4L693.8 818.0M682.5 810.0L680.0 815.0L676.9 817.5L673.8 820.6L670.0 819.8L667.5 822.5L664.8 825.0L664.4 828.8L661.2 829.4L658.8 831.9L656.9 835.0L653.8 838.8L651.9 842.5L649.4 845.6L646.9 847.2L646.2 850.0L644.0 853.1L642.2 856.9L640.6 860.6L640.2 864.4L639.4 868.1L641.9 865.0L645.6 861.5L649.4 859.8L651.9 858.8L653.8 859.4L655.0 855.6L655.0 852.5L656.9 850.6L659.4 851.2L663.8 849.4L666.9 846.2L670.0 842.5L672.5 840.6L675.0 839.4L676.9 835.0L678.1 831.2L679.4 827.5L681.2 825.6L685.0 824.4L688.8 823.1L691.2 820.6L694.4 818.1L696.9 815.0L698.8 810.0M643.8 868.8L646.2 868.8L647.2 871.2L646.2 875.2L643.1 875.0L643.8 868.8M630.0 883.1L632.5 882.5L635.6 881.5L635.6 886.2L635.2 891.2L632.8 895.6L630.6 892.5L629.6 888.1L630.6 885.0L630.0 883.1M610.6 962.5L613.1 958.8L616.2 954.4L616.9 949.4L618.1 943.8L620.0 940.0L621.9 936.5L624.0 938.1L625.0 941.2L624.8 945.6L626.2 948.1L625.0 951.9L623.1 955.6L622.5 958.1L624.8 959.4L627.5 956.9L630.0 953.8L632.5 949.4L634.0 945.0L633.8 941.2L635.6 937.8L638.1 937.2L640.6 938.8L642.2 941.9L641.9 946.2L643.1 950.6L643.8 955.0L645.0 957.5L647.5 957.8L649.4 960.0L651.9 961.2L653.1 958.8L654.4 957.8L655.6 961.2L658.1 963.1L660.0 963.8M691.9 937.2L693.8 935.0L696.0 935.6L696.5 938.1L695.0 939.4L692.5 938.5L691.9 937.2"/>
</g>
<g id="mainticks" stroke="#222" stroke-width="1" fill="none">
<path d="M100.5 937.5H106"/>
<path d="M100.5 885.5H106"/>
<path d="M100.5 833.5H106"/>
<path d="M100.5 781.5H106"/>
<path d="M100.5 728.5H106"/>
<path d="M100.5 676.5H106"/>
<path d="M100.5 624.5H106"/>
<path d="M100.5 572.5H106"/>
<path d="M100.5 519.5H106"/>
<path d="M100.5 467.5H106"/>
<path d="M100.5 415.5H106"/>
<path d="M100.5 363.5H106"/>
<path d="M100.5 311.5H106"/>
<path d="M100.5 258.5H106"/>
<path d="M100.5 206.5H106"/>
<path d="M127.5 964V969"/>
<path d="M169.5 964V969"/>
<path d="M211.5 964V969"/>
<path d="M253.5 964V969"/>
<path d="M295.5 964V969"/>
<path d="M337.5 964V969"/>
<path d="M379.5 964V969"/>
<path d="M421.5 964V969"/>
<path d="M463.5 964V969"/>
<path d="M505.5 964V969"/>
<path d="M547.5 964V969"/>
<path d="M589.5 964V969"/>
<path d="M631.5 964V969"/>
<path d="M673.5 964V969"/>
<path d="M715.5 964V969"/>
</g>
<rect x="106.75" y="180.75" width="630.0" height="782.75" class="k" stroke-width="1.5"/>
<g id="mainlabels">
<text x="71.9" y="945.14" font-size="20.8" fill="#111" textLength="22.7" lengthAdjust="spacingAndGlyphs" stroke="#fff" stroke-width="0.4" paint-order="fill stroke" style="paint-order:fill stroke">7N</text>
<text x="71.9" y="892.93" font-size="20.8" fill="#111" textLength="22.7" lengthAdjust="spacingAndGlyphs" stroke="#fff" stroke-width="0.4" paint-order="fill stroke" style="paint-order:fill stroke">8N</text>
<text x="71.9" y="840.72" font-size="20.8" fill="#111" textLength="22.7" lengthAdjust="spacingAndGlyphs" stroke="#fff" stroke-width="0.4" paint-order="fill stroke" style="paint-order:fill stroke">9N</text>
<text x="61.4" y="788.51" font-size="20.8" fill="#111" textLength="33.2" lengthAdjust="spacingAndGlyphs" stroke="#fff" stroke-width="0.4" paint-order="fill stroke" style="paint-order:fill stroke">10N</text>
<text x="61.4" y="736.3" font-size="20.8" fill="#111" textLength="33.2" lengthAdjust="spacingAndGlyphs" stroke="#fff" stroke-width="0.4" paint-order="fill stroke" style="paint-order:fill stroke">11N</text>
<text x="61.4" y="684.09" font-size="20.8" fill="#111" textLength="33.2" lengthAdjust="spacingAndGlyphs" stroke="#fff" stroke-width="0.4" paint-order="fill stroke" style="paint-order:fill stroke">12N</text>
<text x="61.4" y="631.88" font-size="20.8" fill="#111" textLength="33.2" lengthAdjust="spacingAndGlyphs" stroke="#fff" stroke-width="0.4" paint-order="fill stroke" style="paint-order:fill stroke">13N</text>
<text x="61.4" y="579.67" font-size="20.8" fill="#111" textLength="33.2" lengthAdjust="spacingAndGlyphs" stroke="#fff" stroke-width="0.4" paint-order="fill stroke" style="paint-order:fill stroke">14N</text>
<text x="61.4" y="527.46" font-size="20.8" fill="#111" textLength="33.2" lengthAdjust="spacingAndGlyphs" stroke="#fff" stroke-width="0.4" paint-order="fill stroke" style="paint-order:fill stroke">15N</text>
<text x="61.4" y="475.25" font-size="20.8" fill="#111" textLength="33.2" lengthAdjust="spacingAndGlyphs" stroke="#fff" stroke-width="0.4" paint-order="fill stroke" style="paint-order:fill stroke">16N</text>
<text x="61.4" y="423.04" font-size="20.8" fill="#111" textLength="33.2" lengthAdjust="spacingAndGlyphs" stroke="#fff" stroke-width="0.4" paint-order="fill stroke" style="paint-order:fill stroke">17N</text>
<text x="61.4" y="370.83" font-size="20.8" fill="#111" textLength="33.2" lengthAdjust="spacingAndGlyphs" stroke="#fff" stroke-width="0.4" paint-order="fill stroke" style="paint-order:fill stroke">18N</text>
<text x="61.4" y="318.62" font-size="20.8" fill="#111" textLength="33.2" lengthAdjust="spacingAndGlyphs" stroke="#fff" stroke-width="0.4" paint-order="fill stroke" style="paint-order:fill stroke">19N</text>
<text x="61.4" y="266.41" font-size="20.8" fill="#111" textLength="33.2" lengthAdjust="spacingAndGlyphs" stroke="#fff" stroke-width="0.4" paint-order="fill stroke" style="paint-order:fill stroke">20N</text>
<text x="61.4" y="214.2" font-size="20.8" fill="#111" textLength="33.2" lengthAdjust="spacingAndGlyphs" stroke="#fff" stroke-width="0.4" paint-order="fill stroke" style="paint-order:fill stroke">21N</text>
<text x="110.5" y="984.8" font-size="17.2" fill="#111" textLength="35.6" lengthAdjust="spacingAndGlyphs" stroke="#fff" stroke-width="0.15" paint-order="fill stroke" style="paint-order:fill stroke">105E</text>
<text x="152.5" y="984.8" font-size="17.2" fill="#111" textLength="35.6" lengthAdjust="spacingAndGlyphs" stroke="#fff" stroke-width="0.15" paint-order="fill stroke" style="paint-order:fill stroke">106E</text>
<text x="194.5" y="984.8" font-size="17.2" fill="#111" textLength="35.6" lengthAdjust="spacingAndGlyphs" stroke="#fff" stroke-width="0.15" paint-order="fill stroke" style="paint-order:fill stroke">107E</text>
<text x="236.5" y="984.8" font-size="17.2" fill="#111" textLength="35.6" lengthAdjust="spacingAndGlyphs" stroke="#fff" stroke-width="0.15" paint-order="fill stroke" style="paint-order:fill stroke">108E</text>
<text x="278.5" y="984.8" font-size="17.2" fill="#111" textLength="35.6" lengthAdjust="spacingAndGlyphs" stroke="#fff" stroke-width="0.15" paint-order="fill stroke" style="paint-order:fill stroke">109E</text>
<text x="320.5" y="984.8" font-size="17.2" fill="#111" textLength="35.6" lengthAdjust="spacingAndGlyphs" stroke="#fff" stroke-width="0.15" paint-order="fill stroke" style="paint-order:fill stroke">110E</text>
<text x="362.5" y="984.8" font-size="17.2" fill="#111" textLength="35.6" lengthAdjust="spacingAndGlyphs" stroke="#fff" stroke-width="0.15" paint-order="fill stroke" style="paint-order:fill stroke">111E</text>
<text x="404.5" y="984.8" font-size="17.2" fill="#111" textLength="35.6" lengthAdjust="spacingAndGlyphs" stroke="#fff" stroke-width="0.15" paint-order="fill stroke" style="paint-order:fill stroke">112E</text>
<text x="446.5" y="984.8" font-size="17.2" fill="#111" textLength="35.6" lengthAdjust="spacingAndGlyphs" stroke="#fff" stroke-width="0.15" paint-order="fill stroke" style="paint-order:fill stroke">113E</text>
<text x="488.5" y="984.8" font-size="17.2" fill="#111" textLength="35.6" lengthAdjust="spacingAndGlyphs" stroke="#fff" stroke-width="0.15" paint-order="fill stroke" style="paint-order:fill stroke">114E</text>
<text x="530.5" y="984.8" font-size="17.2" fill="#111" textLength="35.6" lengthAdjust="spacingAndGlyphs" stroke="#fff" stroke-width="0.15" paint-order="fill stroke" style="paint-order:fill stroke">115E</text>
<text x="572.5" y="984.8" font-size="17.2" fill="#111" textLength="35.6" lengthAdjust="spacingAndGlyphs" stroke="#fff" stroke-width="0.15" paint-order="fill stroke" style="paint-order:fill stroke">116E</text>
<text x="614.5" y="984.8" font-size="17.2" fill="#111" textLength="35.6" lengthAdjust="spacingAndGlyphs" stroke="#fff" stroke-width="0.15" paint-order="fill stroke" style="paint-order:fill stroke">117E</text>
<text x="656.5" y="984.8" font-size="17.2" fill="#111" textLength="35.6" lengthAdjust="spacingAndGlyphs" stroke="#fff" stroke-width="0.15" paint-order="fill stroke" style="paint-order:fill stroke">118E</text>
<text x="698.5" y="984.8" font-size="17.2" fill="#111" textLength="35.6" lengthAdjust="spacingAndGlyphs" stroke="#fff" stroke-width="0.15" paint-order="fill stroke" style="paint-order:fill stroke">119E</text>
</g>
<circle cx="422" cy="572" r="6" fill="#fa3838"/>
<g>
<path d="M539.7 181L536.9 185.3" stroke="#222" stroke-width="1" fill="none"/>
<circle cx="531.06" cy="196.1" r="3.5" class="k" stroke-width="1" fill="#fff"/>
<text x="513.9" y="194.2" font-size="10.4" fill="#111" textLength="12.2" lengthAdjust="spacingAndGlyphs">23</text>
<text x="513.9" y="205.5" font-size="10.4" fill="#111" textLength="12.2" lengthAdjust="spacingAndGlyphs">24</text>
<text x="537.3" y="194.2" font-size="10.4" fill="#111" textLength="16.45" lengthAdjust="spacingAndGlyphs">131</text>
<text x="537.3" y="205.5" font-size="10.4" fill="#111" textLength="13.7" lengthAdjust="spacingAndGlyphs">+8</text>
<text x="537.3" y="215.1" font-size="10.4" fill="#fa3232" textLength="31" lengthAdjust="spacingAndGlyphs">VRFT7</text>
</g>
<g>
<circle cx="610.8" cy="389.6" r="3.2" class="k" stroke-width="1"/>
<circle cx="610.8" cy="389.6" r="5.7" class="k" stroke-width="1"/>
<text x="592.5" y="387.5" font-size="10.4" fill="#111" textLength="12.7" lengthAdjust="spacingAndGlyphs">26</text>
<text x="617.8" y="386.6" font-size="10.4" fill="#111" textLength="18.3" lengthAdjust="spacingAndGlyphs">126</text>
<text x="617.8" y="396.4" font-size="10.4" fill="#111" textLength="21.1" lengthAdjust="spacingAndGlyphs">+17</text>
<text x="617.3" y="408.3" font-size="10.4" fill="#fa3232" textLength="47.4" lengthAdjust="spacingAndGlyphs">VHQM5JT</text>
</g>
<g>
<path d="M585.6 494.2L585.6 521.6" stroke="#222" stroke-width="1" fill="none"/>
<circle cx="585.65" cy="525.15" r="3.5" class="k" stroke-width="1" fill="#fff"/>
<text x="568.6" y="523" font-size="10.4" fill="#111" textLength="12.2" lengthAdjust="spacingAndGlyphs">27</text>
<text x="568.6" y="534" font-size="10.4" fill="#111" textLength="12.2" lengthAdjust="spacingAndGlyphs">28</text>
<text x="592" y="523" font-size="10.4" fill="#111" textLength="17.8" lengthAdjust="spacingAndGlyphs">100</text>
<text x="591" y="533" font-size="10.4" fill="#111" textLength="5.25" lengthAdjust="spacingAndGlyphs">0</text>
<text x="591.6" y="543.9" font-size="10.4" fill="#fa3232" textLength="33.2" lengthAdjust="spacing">VRSF4</text>
</g>
<g>
<circle cx="505.6" cy="655.8" r="3.2" class="k" stroke-width="1"/>
<circle cx="505.6" cy="655.8" r="5.7" class="k" stroke-width="1"/>
<text x="487.3" y="653.7" font-size="10.4" fill="#111" textLength="12.2" lengthAdjust="spacingAndGlyphs">25</text>
<text x="512.65" y="652.8" font-size="10.4" fill="#111" textLength="18.25" lengthAdjust="spacingAndGlyphs">108</text>
<text x="512.65" y="663" font-size="10.4" fill="#111" textLength="21.55" lengthAdjust="spacingAndGlyphs">+13</text>
<text x="512.2" y="674.7" font-size="10.4" fill="#fa3232" textLength="46.8" lengthAdjust="spacingAndGlyphs">WJMAL2E</text>
</g>
<g>
<path d="M627.15 786.4L653.6 786.4" stroke="#222" stroke-width="1" fill="none"/>
<path d="M632.5 786.4L629.5 777.3" stroke="#222" stroke-width="1" fill="none"/>
<path d="M632.2 778.2L631.6 780.2" stroke="#222" stroke-width="1" fill="none"/>
<circle cx="657.15" cy="786.25" r="3.5" class="k" stroke-width="1" fill="#fff"/>
<text x="640" y="783.7" font-size="10.4" fill="#111" textLength="12.2" lengthAdjust="spacingAndGlyphs">28</text>
<text x="663" y="783.3" font-size="10.4" fill="#111" textLength="18" lengthAdjust="spacingAndGlyphs">120</text>
<text x="663" y="793.9" font-size="10.4" fill="#111" textLength="19.7" lengthAdjust="spacingAndGlyphs">+21</text>
<text x="663.9" y="804.7" font-size="10.4" fill="#fa3232" textLength="49.2" lengthAdjust="spacingAndGlyphs">GKSXM9P</text>
<text x="646.1" y="811.6" font-size="10.4" fill="#5a78ff" textLength="20.15" lengthAdjust="spacingAndGlyphs">G08</text>
</g>
<g>
<path d="M140.15 880.65L151 878.1" stroke="#222" stroke-width="1" fill="none"/>
<path d="M145.1 879.4L141.1 871.4" stroke="#222" stroke-width="1" fill="none"/>
<circle cx="169.7" cy="875.1" r="3.5" class="k" stroke-width="1" fill="#fff"/>
<text x="152.3" y="872.7" font-size="10.4" fill="#111" textLength="12.7" lengthAdjust="spacingAndGlyphs">26</text>
<text x="152.3" y="884.7" font-size="10.4" fill="#111" textLength="12.7" lengthAdjust="spacingAndGlyphs">29</text>
<text x="175.3" y="872.7" font-size="10.4" fill="#111" textLength="18.8" lengthAdjust="spacingAndGlyphs">102</text>
<text x="175.8" y="893.8" font-size="10.4" fill="#fa3232" textLength="34.2" lengthAdjust="spacing">V7QK9</text>
</g>
<g>
<circle cx="497.6" cy="953.1" r="3.5" class="k" stroke-width="1" fill="#fff"/>
<text x="480" y="951" font-size="10.4" fill="#111" textLength="12.65" lengthAdjust="spacingAndGlyphs">28</text>
<text x="480" y="962.5" font-size="10.4" fill="#111" textLength="12.3" lengthAdjust="spacingAndGlyphs">29</text>
<text x="503.4" y="951" font-size="10.4" fill="#111" textLength="17.85" lengthAdjust="spacingAndGlyphs">179</text>
<text x="503.9" y="972" font-size="10.4" fill="#fa3232" textLength="39.85" lengthAdjust="spacing">9V8372</text>
</g>
<g id="world" clip-path="url(#cw)">
<path class="gw" d="M765.9 221.8L769.6 220.5L775.2 220.1L781.5 220.5L779.6 222.6L777.1 223.9L774.0 223.2L771.5 225.1L768.4 223.9L765.9 221.8M770.2 222.6L772.8 222.0L771.5 223.9M796.5 220.1L801.5 219.5L806.5 219.2L811.5 218.9L815.9 219.5L812.8 220.5L807.8 221.0L802.8 221.0L796.5 220.1M819.6 224.5L815.2 225.5L810.2 227.0L806.5 228.5L804.0 230.1L805.9 231.4L809.0 232.0L811.5 233.2L809.0 232.6L806.5 231.4L808.4 229.5L812.1 228.0L816.5 226.4L819.6 224.5M756.5 255.1L759.0 252.6L762.8 250.1L766.5 248.9L764.6 247.0L762.1 245.8L760.9 243.2L761.5 240.8L765.2 238.9L767.8 236.4L769.0 233.9L772.8 232.0L777.8 230.8L782.8 230.8L787.8 232.0L792.8 233.9L795.2 235.1L791.5 236.4L787.8 236.4L785.2 235.8L789.0 237.6L792.8 237.0L797.1 235.1L800.9 233.2L804.0 233.9L807.8 233.9L812.8 233.2L816.5 233.9L819.0 232.0L820.2 229.5L822.1 231.4L821.5 235.1L822.1 237.0L824.0 235.1L823.4 232.6L825.9 230.8L829.0 230.1L832.1 228.2L836.5 227.0L841.5 225.8L846.5 224.5L850.2 223.9L846.5 222.6L841.5 221.4L839.6 220.1L843.4 219.5L847.8 221.0L852.8 222.6L856.5 224.5L860.2 225.8L857.8 227.6L853.4 229.2L857.8 228.2L862.8 227.6L867.1 228.2L871.5 228.9L874.6 230.1L875.9 231.4L879.0 230.1L884.0 229.5L885.2 228.2L881.5 227.0L880.9 225.8L886.5 225.5L891.5 225.8L894.6 226.4L890.2 227.6L886.5 228.2L890.2 229.5L895.2 230.1L900.2 231.4L904.0 232.6L909.0 233.2L914.0 232.6M777.8 237.0L774.6 238.9L773.4 242.0L774.0 244.5L772.8 247.0L771.5 244.5L772.1 240.8L774.0 238.2L777.8 237.0M766.5 248.9L770.2 247.6L772.8 247.0L777.1 244.5L780.9 243.2L785.2 242.6L788.4 243.2L789.6 242.0M785.2 235.8L787.8 239.5L790.2 240.8L791.5 238.2M756.5 265.8L759.6 263.9L763.4 262.6L766.5 260.8L769.0 260.1L770.2 262.6L772.8 265.1L775.9 266.4L774.6 268.2L777.1 269.5L779.0 267.0L780.9 265.1L783.4 262.6L784.0 259.5L787.1 258.2L791.5 258.0L790.2 260.1L792.8 262.0L794.6 263.9L792.1 265.1L788.4 264.5L785.2 265.8L782.1 266.4L780.9 268.2L782.8 270.1L787.1 270.1L789.6 270.8L787.8 273.2L786.5 276.4L783.4 275.1L779.0 274.5L775.9 275.1L773.4 277.0L770.2 275.1L766.5 273.9L765.2 271.4L762.1 270.8L759.6 270.1L756.5 270.8M799.0 260.1L801.5 258.2L805.2 258.2L803.4 260.8L804.0 263.9L805.9 265.8L804.6 269.5L802.1 269.5L800.9 266.4L801.5 263.2L799.0 260.1M809.6 260.1L811.5 258.5L812.8 260.1L811.5 262.0L809.6 262.0L809.6 260.1M823.4 260.1L825.2 258.5L829.0 258.5L826.5 259.5L823.4 260.1M850.2 253.2L853.4 251.4L855.9 249.5L856.8 248.0L855.9 250.8L853.4 253.0L850.2 253.2M786.5 276.4L788.4 280.8L790.9 285.8L793.4 290.8L795.9 295.8L796.5 300.1L799.6 298.9L804.0 295.1L807.8 292.0L810.2 288.2L810.9 285.1L809.0 282.0L807.1 280.8L804.0 282.0L802.1 279.5L800.2 277.6L800.9 280.1L803.4 283.2L806.5 283.9L809.0 282.6L812.8 282.6L816.5 282.6L819.0 285.1L821.5 286.4L822.1 289.5L823.4 293.2L825.2 297.6L827.1 301.4L829.0 304.5L830.5 303.9L830.9 300.1L829.6 295.8L831.5 292.0L834.0 289.5L837.1 287.0L839.6 285.8L841.5 288.9L843.4 293.2L845.2 294.5L846.5 298.2L847.8 301.4L849.0 304.5L850.2 307.0M787.8 277.0L790.2 283.2L792.8 289.5L795.2 296.4L797.1 300.1L802.1 297.6L805.2 297.0L804.0 298.9L800.9 299.5L802.8 302.0L801.5 304.5L800.2 307.0M844.0 307.0L845.9 303.9L847.8 301.4M862.1 287.0L864.0 285.1L865.9 282.0L867.1 278.2L866.5 274.5L865.9 270.8L863.4 268.2L867.1 265.8L870.2 267.0L869.0 269.5L872.1 269.5L872.8 272.0L874.6 269.5L873.4 267.0L875.2 264.5L878.4 262.0L881.5 259.5L884.0 255.8L885.2 252.0L886.5 250.1L881.5 250.8L879.6 249.5L884.0 246.4L888.4 244.5L894.0 243.9L899.0 243.2L904.0 241.4L907.1 240.5L905.2 243.2L902.8 247.0L900.2 250.8L897.8 254.5L899.0 250.8L899.6 247.0L901.5 243.9L909.0 243.2L914.0 242.6M886.5 250.8L887.1 257.0L885.9 262.0L885.2 267.0L884.6 262.0L885.2 257.0L886.5 250.8M893.4 259.5L889.6 261.4L886.5 263.2L885.2 267.0L884.0 270.8L880.2 272.6L876.5 274.5L874.6 276.4L875.9 273.9L879.0 272.0L882.8 269.5L884.0 265.8L886.5 262.6L890.2 260.5L893.4 259.5M867.1 283.2L867.8 285.1L866.5 285.8L867.1 283.2M868.4 294.5L870.2 295.8L871.5 299.5L870.9 303.2L869.0 304.5L869.6 300.8L868.4 297.0L868.4 294.5M756.5 303.2L760.2 304.5L764.0 307.0M768.4 295.5L770.2 296.4L769.2 297.6L768.4 295.5M913.0 251.0L914.0 251.8M856.2 288.9L857.2 290.1L855.9 292.0L855.5 294.5L856.8 297.0L855.9 299.5L854.0 300.5M867.1 287.0L868.0 288.9L867.5 290.8L868.4 293.2M914.0 232.4L918.1 231.8L922.3 233.8L927.8 235.9L931.2 236.6L929.1 238.6L923.6 237.9L919.5 236.6L916.8 240.0L914.0 242.1M919.5 231.1L922.9 230.7L921.6 231.8L919.5 231.1M931.9 236.6L933.3 233.8L937.4 231.8L942.9 231.1L948.4 231.5L953.9 232.0L960.8 233.1L966.3 231.8L970.4 231.1L971.8 227.6L971.1 224.9L974.5 224.2L980.0 222.8L985.5 222.1L991.0 220.8L996.5 220.1L1002.0 218.7L1010.3 217.7L1018.5 217.3L1026.8 217.7L1021.3 219.4L1017.1 221.4L1014.4 224.2L1015.8 226.9L1018.5 229.0L1022.6 229.7L1026.1 231.8L1028.1 234.5L1027.4 237.9L1025.4 240.7L1022.6 241.4L1021.3 239.3L1018.5 240.0L1015.8 238.6L1013.0 240.0L1010.3 239.3L1007.5 240.0L1006.8 237.9L1003.4 239.3L999.9 240.7L998.2 243.0L999.9 245.5L1003.4 246.9L1007.5 248.3L1010.3 248.9L1011.6 253.1L1013.0 251.0L1012.3 247.6L1013.7 244.8L1014.4 242.1L1017.1 241.4L1021.3 242.8L1024.0 243.4L1026.8 245.5L1029.5 248.3L1032.3 251.0L1034.3 253.8L1035.7 255.8L1036.4 258.6L1033.6 258.6L1030.9 259.9L1027.4 261.3L1024.0 262.0L1025.4 259.3L1028.8 257.2L1032.3 255.8L1029.5 254.4L1025.4 255.1L1021.9 257.2L1019.9 258.6L1021.9 259.9L1024.0 262.0L1020.6 263.4L1017.8 265.4L1015.1 268.2L1014.4 271.6L1012.3 274.4L1010.3 277.1L1010.9 281.3L1012.3 283.3L1013.7 281.9L1013.0 278.5L1010.3 277.1M931.9 236.6L934.6 237.9L938.1 239.3L934.6 240.0L931.9 241.4L933.3 244.1L937.4 244.8L941.5 245.5L936.0 248.3L930.5 251.7L933.3 249.6L938.8 247.6L943.6 246.2L945.6 243.4L949.1 242.5L953.9 243.0L958.0 243.9L961.4 246.2L964.2 249.6L966.9 252.4L970.4 254.4L973.1 256.5L971.8 259.9L971.1 263.4L972.4 267.5L974.5 271.6L977.3 274.4L980.0 277.1L982.8 281.3L984.8 285.4L983.4 282.6L981.4 279.2L979.3 276.4L981.4 275.8L984.1 279.9L986.9 284.0L988.9 288.1L992.4 290.9L996.5 293.6L999.3 292.9L1002.7 296.4L1006.1 299.8L1008.9 301.9L1012.3 303.3L1013.7 300.5L1012.3 298.4L1008.9 296.4L1008.2 292.9L1004.1 292.9L1004.8 288.1L1001.3 288.1L998.6 290.9L996.5 288.1L995.8 283.3L996.5 279.9L999.3 277.8L1003.4 277.1L1008.9 277.1L1010.3 277.1M1012.3 303.3L1014.4 305.3L1013.0 308.8L1011.6 312.9L1010.9 317.0M1013.7 300.5L1016.4 298.4L1019.2 298.4L1021.3 297.1L1020.6 301.9L1024.0 299.1L1028.1 299.8L1030.9 302.6L1035.0 304.6L1037.8 307.4L1039.8 311.5L1037.8 312.9L1041.9 312.2L1046.0 313.6L1050.1 315.6L1052.9 317.0M1007.5 286.1L1011.6 285.7L1015.8 287.4L1019.9 289.5L1024.0 290.2L1019.9 291.2L1015.8 290.2L1013.0 288.1L1007.5 286.1M1028.8 292.9L1029.5 295.0M971.1 224.9L975.9 226.3L981.4 225.6L986.9 226.3L992.4 224.9L997.9 223.5L1003.4 222.1L1008.9 220.8L1014.4 220.1L1010.3 222.1L1004.8 224.2L999.3 226.3L993.8 227.6L988.3 228.3L982.8 229.0L977.3 229.0L971.8 229.7L970.4 227.6M973.1 231.8L978.6 231.1L984.1 231.8L989.6 232.4L995.1 231.1L999.3 229.7L1003.4 227.6L1007.5 226.3L1011.6 224.9L1014.4 224.2M978.6 233.8L982.8 233.1L986.9 234.5L991.0 233.8L995.1 235.2L999.3 233.1L1003.4 231.8L1006.1 234.5L1008.9 236.6L1013.0 235.2L1017.1 235.9L1019.9 237.9L1024.0 236.6L1028.1 234.5M988.3 221.4L993.8 223.5L999.3 220.8L1004.8 223.5L1010.3 220.1M991.0 220.8L996.5 224.9L1002.0 227.6L1004.8 231.8L1010.3 233.1M996.5 220.1L1000.6 224.2L1006.1 226.3L1010.3 229.7L1015.8 231.8L1021.3 234.5M970.4 236.6L974.5 235.6L976.6 236.6L973.1 238.4L970.4 236.6M977.9 242.1L981.4 240.7L985.5 240.0L982.8 242.1L977.9 243.0L977.9 242.1M982.8 244.8L986.2 243.9L984.8 245.5L982.8 244.8M990.3 246.2L991.7 245.5L992.4 247.6L991.0 248.3L990.3 246.2M992.4 251.0L995.8 250.3L997.2 253.8L995.1 255.1L993.1 253.1L992.4 251.0M1000.6 258.6L1004.1 256.5L1007.5 257.2L1010.3 259.3L1014.4 261.3L1015.8 262.7L1012.3 264.1L1008.9 264.8L1007.5 261.3L1005.4 259.9L1004.8 263.4L1003.4 260.6L1000.6 258.6M1026.8 217.7L1035.0 216.9L1043.3 216.4L1051.5 216.4L1059.8 216.4L1066.6 217.3L1074.9 219.4L1069.4 220.8L1068.0 224.2L1065.3 227.6L1063.9 231.8L1059.8 233.8L1054.3 235.9L1049.4 238.6L1046.0 243.4L1043.3 244.1L1039.8 242.1L1037.8 237.9L1036.4 233.8L1035.0 230.4L1033.6 226.9L1030.2 224.9L1025.4 224.2L1021.3 222.8L1024.0 220.8L1026.8 217.7M1035.0 231.1L1037.8 232.4L1037.1 233.8M1061.1 231.1L1063.9 232.4M1062.5 237.3L1065.3 236.2L1070.8 236.2L1072.8 237.5L1070.8 239.3L1065.9 239.7L1062.5 237.3M1077.9 240.6L1079.0 241.0M1084.5 245.5L1081.1 245.2L1078.3 247.6L1076.9 251.0L1075.6 252.4L1079.0 253.1L1081.1 255.1L1083.1 256.5L1084.5 258.6M1079.7 248.3L1082.4 249.6L1081.1 252.4L1083.8 253.8M1084.5 262.0L1076.9 262.3L1076.3 268.9L1080.4 269.6L1084.5 271.6M1084.5 271.6L1079.0 273.0L1074.9 275.8L1072.1 279.2L1069.4 279.9L1071.4 280.6L1070.1 285.4L1069.4 290.9L1069.1 296.4L1071.4 300.5L1074.2 303.3L1076.9 306.0L1080.4 306.3L1084.5 305.3M938.5 286.5L940.8 287.0L942.9 288.4L943.6 290.2L942.2 289.2L940.1 287.9L938.5 286.5M923.4 252.4L924.2 253.1M914.0 251.4L914.8 252.0M1001.0 311.5L1002.0 312.9L1001.0 313.2L1001.0 311.5M756.5 305.0L760.2 304.0L763.4 305.6L765.2 308.1L764.6 311.2L765.9 315.0L767.8 318.8L769.0 322.5L767.8 326.2L767.1 330.6L768.4 335.0L770.2 340.0L772.1 345.0L772.8 349.4L774.6 351.2L778.4 350.6L781.5 349.4L784.0 346.9L785.9 343.8L787.1 340.0L787.8 336.2L789.6 332.5L792.1 330.0L793.4 326.9L792.8 323.1L791.5 320.0L792.1 316.2L794.0 313.1L797.1 309.4L799.6 306.2L801.5 303.1L802.1 300.0M785.2 311.9L787.1 311.5L787.5 313.5L785.9 314.4L785.2 311.9M783.0 315.6L783.8 318.8L784.4 321.9L783.5 320.0L783.0 315.6M787.1 322.5L788.0 325.6L788.8 328.1L787.8 325.6L787.1 322.5M801.5 325.6L802.1 328.8L801.2 332.5L800.2 336.9L799.0 340.0L797.1 340.6L795.9 338.1L796.2 334.4L797.5 330.6L799.2 328.1L801.5 325.6M806.5 335.6L809.0 334.4M819.0 366.9L820.9 368.1L819.0 368.5L819.0 366.9M826.5 300.0L829.0 301.2L830.9 303.8L829.6 305.2L827.8 303.1L826.5 300.0M843.0 305.2L845.2 308.1L848.4 312.5L852.1 316.2L855.2 318.8L857.8 319.8L855.9 317.5L852.8 314.4L849.6 310.6L847.1 306.9L845.2 305.0L843.0 305.2M847.1 300.0L848.4 303.1L850.9 306.9L852.8 309.4L854.0 307.5L852.1 304.4L850.2 301.2M854.0 319.4L857.8 320.6L862.8 321.5L866.5 322.5L870.2 321.9L872.1 320.6L869.0 320.0L864.0 319.8L859.0 318.8L855.2 318.8M874.0 320.0L877.1 319.8M879.0 320.6L881.5 321.2M855.2 309.4L857.8 307.5L860.2 305.6L863.4 306.2L864.0 309.4L863.4 312.5L862.1 315.0L860.2 316.0L857.8 315.0L855.9 312.5L855.2 309.4M865.9 311.2L867.1 310.0L869.6 310.6L868.4 312.5L867.1 314.4L868.4 317.5L866.5 316.9L865.5 314.4L865.9 311.2M869.6 310.6L871.5 311.9M868.4 300.0L870.2 301.9L871.5 304.4L869.6 305.0L868.4 302.5L868.4 300.0M865.6 300.6L866.2 305.0M872.1 311.9L874.0 311.2L875.9 312.5M877.1 312.5L879.6 311.9L882.8 313.1L886.5 315.0L889.6 316.2L892.8 318.8L894.6 320.6L895.9 322.5L893.4 323.1L890.9 321.9L888.4 320.6L886.5 321.9L884.6 320.0L882.1 317.5L879.6 316.2L877.8 315.0L877.1 312.5M894.0 315.0L896.5 316.2L898.4 318.8M901.5 322.2L904.6 323.8M908.4 328.1L909.6 330.0M905.9 333.8L909.0 336.9M885.9 324.4L886.5 326.9L885.5 330.0L884.0 331.9L882.1 329.4L881.5 326.9L879.0 325.0L877.1 324.4L875.9 326.2L874.0 328.1L871.5 327.5L869.6 329.4L867.8 331.9L865.9 333.8L862.8 335.0L860.2 336.2L859.2 339.4L860.0 343.1L861.2 346.9L861.5 350.0L863.4 351.2L867.1 350.0L870.9 348.5L874.6 347.5L878.4 348.1L880.9 349.4L882.1 351.9L881.5 349.4L882.8 351.2L884.6 353.8L887.8 355.0L890.9 355.2L893.4 353.8L895.2 350.0L896.5 346.2L896.8 342.5L895.2 338.8L893.4 335.6L891.5 332.5L889.6 329.4L887.8 326.2L885.9 324.4M888.4 357.8L890.2 357.2L892.1 358.1L891.2 360.6L889.6 361.2L888.4 359.4L888.4 357.8M914.0 358.1L913.4 358.8L910.9 361.2L908.4 363.1L909.6 365.2L912.1 363.8L914.0 361.9M913.4 350.6L914.0 351.9M756.5 392.5L761.5 391.2L766.5 390.6L772.8 391.2L779.0 391.0L784.0 390.0L787.8 389.0L791.5 390.6L795.2 388.8L799.6 388.1L802.8 386.9L805.2 386.0L809.0 386.9L814.0 387.5L819.0 388.1L820.2 391.2L822.1 390.2L826.5 388.8L831.5 387.5L837.8 386.9L844.0 386.5L850.2 386.0L855.2 386.9L860.2 386.2L866.5 386.5L872.8 386.9L879.0 386.5L885.2 387.2L891.5 388.5L897.8 389.4L904.0 390.2L909.6 391.9L912.8 393.1L909.0 395.0L905.9 396.9L905.2 399.4L910.9 398.8L906.5 400.0L902.8 401.2L902.1 403.1L904.6 405.0L909.0 406.0L914.0 406.2M1006.1 301.4L1010.3 302.8L1013.7 302.5L1015.8 301.4L1015.1 304.8L1013.3 308.3L1011.6 311.7L1010.9 314.4L1010.3 317.2L1012.3 320.6L1014.4 324.8L1016.4 328.2L1019.2 330.3L1021.0 332.3L1020.6 337.1L1020.2 342.6L1019.6 348.1L1018.5 352.9L1017.4 357.8L1016.9 362.6L1016.0 366.7L1016.4 370.1L1017.8 372.9L1020.6 374.3L1023.3 374.9L1025.4 373.6L1022.6 372.2L1020.6 371.5L1022.6 368.8L1023.3 365.3L1024.7 361.9L1026.1 358.4L1028.1 356.4L1030.9 354.3L1032.9 352.3L1032.3 350.9L1035.0 349.5L1037.8 346.8L1039.8 343.3L1040.5 340.6L1042.6 338.5L1046.0 337.1L1048.1 335.1L1048.8 330.9L1049.4 327.5L1051.5 324.1L1053.2 320.6L1052.6 317.2L1049.4 314.9L1046.0 313.8L1041.9 312.7L1038.4 313.1L1039.1 310.3L1037.8 307.6L1035.0 305.5L1032.3 304.1L1029.5 301.4L1026.8 300.0M1001.3 311.7L1002.0 313.1M927.1 326.8L928.4 327.5M918.1 331.6L920.2 330.0L919.5 332.3L918.1 331.6M948.1 331.6L948.8 331.9M923.4 361.2L924.0 361.5M914.0 350.9L916.8 352.9L919.5 355.0L917.4 358.4L914.0 360.5M1028.8 370.1L1030.9 369.4L1032.5 370.4L1030.9 371.2L1028.8 370.1M1050.1 372.6L1052.2 374.0M1042.6 380.0L1043.9 380.4M914.0 405.9L920.9 407.0L927.8 407.9L936.0 408.6L944.3 408.9L951.8 408.4L947.0 406.6L944.3 405.9L944.9 403.8L952.5 402.9L947.0 401.8L943.6 401.1L940.1 399.7L945.6 398.3L951.1 397.9L956.6 396.9L962.1 396.3L966.3 397.4L969.0 398.3L971.8 394.9L975.9 394.6L978.6 396.9L982.8 395.6L986.9 396.3L991.0 395.6L993.8 393.5L997.9 394.2L1003.4 394.2L1008.9 394.2L1014.4 393.8L1016.4 390.8L1019.9 390.1L1022.6 388.0L1026.1 385.9L1029.5 383.2L1033.6 382.5L1035.0 383.6L1030.9 385.3L1027.4 387.3L1025.4 389.4L1028.1 390.8L1030.2 393.5L1029.5 396.3L1027.4 398.3L1023.3 399.0L1028.1 399.0L1033.6 400.1L1039.1 401.1L1044.6 401.5L1050.1 401.1L1055.6 399.3L1061.1 397.4L1066.6 395.6L1072.1 394.2L1077.6 392.8L1084.5 391.9M934.6 401.5L937.4 400.4L939.4 401.8L936.7 403.1L934.6 401.5M1015.1 392.1L1018.5 394.9L1022.6 394.9L1024.0 392.1L1021.3 390.1M1071.4 300.0L1073.5 302.8L1076.9 305.8L1080.4 306.2L1084.5 305.5"/>
</g>
<rect x="756.4" y="209.7" width="328.4" height="203.9" class="k" stroke-width="1.3"/>
<rect x="851.9" y="287" width="13.7" height="17.8" class="k" stroke-width="2.3"/>
<text x="812.65" y="463" font-size="17" fill="#000" textLength="47.85" lengthAdjust="spacingAndGlyphs">Range</text>
<text x="871.7" y="463" font-size="17" fill="#000" textLength="51.2" lengthAdjust="spacingAndGlyphs">Circles</text>
<text x="934.4" y="463" font-size="17" fill="#000" textLength="45.6" lengthAdjust="spacingAndGlyphs">(every</text>
<text x="992" y="463" font-size="17" fill="#000" textLength="49.3" lengthAdjust="spacingAndGlyphs">50km)</text>
<text x="1052.5" y="463" font-size="17" fill="#000" textLength="45.5" lengthAdjust="spacingAndGlyphs">drawn</text>
<text x="1109.3" y="463" font-size="17" fill="#000" textLength="38.8" lengthAdjust="spacingAndGlyphs">when</text>
<text x="818.3" y="480.8" font-size="17" fill="#000" textLength="60.4" lengthAdjust="spacingAndGlyphs">position</text>
<text x="890.8" y="480.8" font-size="17" fill="#000" textLength="32.4" lengthAdjust="spacingAndGlyphs">time</text>
<text x="935" y="480.8" font-size="17" fill="#000" textLength="10.7" lengthAdjust="spacingAndGlyphs">is</text>
<text x="956.6" y="480.8" font-size="17" fill="#000" textLength="41.1" lengthAdjust="spacingAndGlyphs">same</text>
<text x="1009.5" y="480.8" font-size="17" fill="#000" textLength="16.3" lengthAdjust="spacingAndGlyphs">as</text>
<text x="1037" y="480.8" font-size="17" fill="#000" textLength="61" lengthAdjust="spacingAndGlyphs">analysis</text>
<text x="1109.3" y="480.8" font-size="17" fill="#000" textLength="32.4" lengthAdjust="spacingAndGlyphs">time</text>
<g id="rgrid" class="dot2">
<path d="M748.5 889.5H1211" stroke-dasharray="1.8 4.45"/>
<path d="M748.5 801.5H1211" stroke-dasharray="1.8 4.45"/>
<path d="M748.5 713.5H1211" stroke-dasharray="1.8 4.45"/>
<path d="M748.5 624.5H1211" stroke-dasharray="1.8 4.45"/>
<path d="M748.5 536.5H1211" stroke-dasharray="1.8 4.45"/>
<path d="M767.5 492.85V933" stroke-dasharray="1.8 4.57"/>
<path d="M838.5 492.85V933" stroke-dasharray="1.8 4.57"/>
<path d="M909.5 492.85V933" stroke-dasharray="1.8 4.57"/>
<path d="M980.5 492.85V933" stroke-dasharray="1.8 4.57"/>
<path d="M1051.5 492.85V933" stroke-dasharray="1.8 4.57"/>
<path d="M1122.5 492.85V933" stroke-dasharray="1.8 4.57"/>
<path d="M1193.5 492.85V933" stroke-dasharray="1.8 4.57"/>
</g>
<g id="rcoast" clip-path="url(#cr)">
<path class="g" d="M750.6 589.5L754.3 587.6L755.2 591.3L758.0 593.7L759.5 598.7L762.6 604.3L759.8 607.1L759.5 611.7L761.3 618.2L762.6 624.7L765.4 633.1L767.3 640.1L771.0 646.0L773.2 650.1L772.8 657.2L773.7 664.6L776.2 671.6L776.2 677.6L778.4 683.1L781.2 687.8L781.2 696.1L782.1 701.7L779.3 699.8L782.1 702.1L783.9 708.2L785.8 713.7L786.2 720.2L784.9 723.9L786.7 722.5L789.5 724.3L788.6 735.1L786.2 731.4L784.9 726.7L784.3 733.2L783.6 740.6L784.3 746.2L782.1 746.6L784.9 749.9L786.7 750.8L785.4 753.6L786.7 757.3L789.5 759.9M752.0 593.2L753.3 594.1L751.5 590.4M784.9 750.0L786.7 753.7L787.7 758.3L790.4 762.1L789.5 765.8L786.7 763.9L785.4 758.3L783.6 759.3L783.0 766.7L785.4 770.4L788.0 772.3L785.8 776.0L788.0 777.8L789.5 774.1L789.1 781.5L788.6 788.9L790.4 794.5L794.1 799.1L797.9 804.7L800.3 809.7L797.9 813.1L795.1 815.8L792.9 817.7L793.6 822.3L796.0 825.1L795.4 828.8L797.9 830.7L800.3 830.1L798.8 834.4L797.3 837.2L795.1 833.5L792.9 831.2L794.1 827.9L792.9 823.3L791.4 820.5L788.6 822.3L785.8 825.1L783.6 828.8L782.5 834.4L782.7 840.9L784.9 839.0L784.3 842.7L786.7 846.4L788.6 851.1L790.4 855.7L789.1 858.5L786.7 857.6L783.9 854.8L781.2 851.1L778.8 850.2L779.3 852.9L781.7 853.9L783.0 859.4L782.5 865.0L780.2 866.8L783.0 868.7L782.7 874.3L783.9 879.8L782.1 883.5L779.9 881.7L781.2 886.3L783.6 891.0L787.3 892.4L786.2 896.5L784.9 899.9L782.1 897.4L783.6 892.8L781.2 894.7L778.4 898.4L776.2 902.1L777.5 903.9L780.6 902.5L782.1 904.9L783.0 909.5L783.0 914.1L781.2 918.8L778.4 923.4L774.7 925.3L771.0 925.3L768.7 923.4L769.1 927.1L768.2 930.8L767.6 933.6M786.2 871.5L788.6 869.3L789.9 871.5L788.6 873.9L786.2 871.5M794.1 857.0L795.4 857.6"/>
<g>
<circle cx="1122.65" cy="854.4" r="3.2" class="k" stroke-width="1"/>
<circle cx="1122.65" cy="854.4" r="5.7" class="k" stroke-width="1"/>
<text x="1104.45" y="852.65" font-size="10.4" fill="#111" textLength="11.75" lengthAdjust="spacingAndGlyphs">25</text>
<text x="1129" y="851.5" font-size="10.4" fill="#111" textLength="18.4" lengthAdjust="spacingAndGlyphs">108</text>
<text x="1129.8" y="861.6" font-size="10.4" fill="#111" textLength="20.2" lengthAdjust="spacingAndGlyphs">+13</text>
<text x="1126.7" y="872.8" font-size="10.4" fill="#fa3232" textLength="46.1" lengthAdjust="spacingAndGlyphs">WJMAL2E</text>
</g>
<path class="b" d="M980.4 673.6L981.3 673.6L982.1 673.7L983.0 673.7L983.9 673.8L984.7 673.9L985.6 674.1L986.4 674.3L987.3 674.5L988.1 674.7L988.9 675.0L989.8 675.2L990.6 675.6L991.4 675.9L992.2 676.2L993.0 676.6L993.8 677.0L994.6 677.5L995.4 677.9L996.1 678.4L996.9 678.9L997.6 679.5L998.4 680.0L999.1 680.6L999.8 681.2L1000.5 681.8L1001.2 682.5L1001.8 683.1L1002.5 683.8L1003.1 684.5L1003.7 685.3L1004.3 686.0L1004.9 686.8L1005.5 687.5L1006.0 688.3L1006.6 689.2L1007.1 690.0L1007.6 690.8L1008.1 691.7L1008.5 692.6L1009.0 693.5L1009.4 694.4L1009.8 695.3L1010.2 696.2L1010.5 697.2L1010.9 698.1L1011.2 699.1L1011.5 700.1L1011.8 701.1L1012.0 702.1L1012.2 703.1L1012.4 704.1L1012.6 705.1L1012.8 706.1L1012.9 707.1L1013.1 708.2L1013.2 709.2L1013.2 710.2L1013.3 711.3L1013.3 712.3L1013.3 713.3L1013.3 714.4L1013.3 715.4L1013.2 716.5L1013.2 717.5L1013.1 718.5L1012.9 719.5L1012.8 720.6L1012.6 721.6L1012.4 722.6L1012.2 723.6L1012.0 724.6L1011.7 725.6L1011.4 726.6L1011.1 727.6L1010.8 728.5L1010.5 729.5L1010.1 730.4L1009.7 731.4L1009.3 732.3L1008.9 733.2L1008.5 734.1L1008.0 734.9L1007.5 735.8L1007.0 736.7L1006.5 737.5L1006.0 738.3L1005.4 739.1L1004.9 739.9L1004.3 740.6L1003.7 741.4L1003.0 742.1L1002.4 742.8L1001.8 743.5L1001.1 744.2L1000.4 744.8L999.7 745.4L999.0 746.0L998.3 746.6L997.6 747.2L996.8 747.7L996.1 748.2L995.3 748.7L994.6 749.1L993.8 749.6L993.0 750.0L992.2 750.4L991.4 750.7L990.6 751.1L989.7 751.4L988.9 751.6L988.1 751.9L987.2 752.1L986.4 752.3L985.5 752.5L984.7 752.7L983.8 752.8L983.0 752.9L982.1 752.9L981.3 753.0L980.4 753.0L979.5 753.0L978.7 752.9L977.8 752.9L977.0 752.8L976.1 752.7L975.3 752.5L974.4 752.3L973.6 752.1L972.7 751.9L971.9 751.6L971.1 751.4L970.2 751.1L969.4 750.7L968.6 750.4L967.8 750.0L967.0 749.6L966.2 749.1L965.5 748.7L964.7 748.2L964.0 747.7L963.2 747.2L962.5 746.6L961.8 746.0L961.1 745.4L960.4 744.8L959.7 744.2L959.0 743.5L958.4 742.8L957.8 742.1L957.1 741.4L956.5 740.6L955.9 739.9L955.4 739.1L954.8 738.3L954.3 737.5L953.8 736.7L953.3 735.8L952.8 734.9L952.3 734.1L951.9 733.2L951.5 732.3L951.1 731.4L950.7 730.4L950.3 729.5L950.0 728.5L949.7 727.6L949.4 726.6L949.1 725.6L948.8 724.6L948.6 723.6L948.4 722.6L948.2 721.6L948.0 720.6L947.9 719.5L947.7 718.5L947.6 717.5L947.6 716.5L947.5 715.4L947.5 714.4L947.5 713.3L947.5 712.3L947.5 711.3L947.6 710.2L947.6 709.2L947.7 708.2L947.9 707.1L948.0 706.1L948.2 705.1L948.4 704.1L948.6 703.1L948.8 702.1L949.0 701.1L949.3 700.1L949.6 699.1L949.9 698.1L950.3 697.2L950.6 696.2L951.0 695.3L951.4 694.4L951.8 693.5L952.3 692.6L952.7 691.7L953.2 690.8L953.7 690.0L954.2 689.2L954.8 688.3L955.3 687.5L955.9 686.8L956.5 686.0L957.1 685.3L957.7 684.5L958.3 683.8L959.0 683.1L959.6 682.5L960.3 681.8L961.0 681.2L961.7 680.6L962.4 680.0L963.2 679.5L963.9 678.9L964.7 678.4L965.4 677.9L966.2 677.5L967.0 677.0L967.8 676.6L968.6 676.2L969.4 675.9L970.2 675.6L971.0 675.2L971.9 675.0L972.7 674.7L973.5 674.5L974.4 674.3L975.2 674.1L976.1 673.9L976.9 673.8L977.8 673.7L978.7 673.7L979.5 673.6L980.4 673.6Z"/>
<path class="b" d="M992.5 635.2L994.2 635.6L995.8 636.1L997.5 636.6L999.2 637.2L1000.8 637.8L1002.5 638.5L1004.1 639.2L1005.7 640.0L1007.3 640.8L1008.9 641.7L1010.4 642.6L1012.0 643.6L1013.5 644.6L1014.9 645.7L1016.4 646.8L1017.8 647.9L1019.3 649.1L1020.6 650.4L1022.0 651.7L1023.3 653.0L1024.6 654.4L1025.9 655.8L1027.1 657.2L1028.3 658.7L1029.5 660.3L1030.6 661.8L1031.7 663.4L1032.8 665.1L1033.8 666.7L1034.8 668.4L1035.8 670.2L1036.7 671.9L1037.6 673.7L1038.4 675.5L1039.2 677.4L1040.0 679.2L1040.7 681.1L1041.4 683.1L1042.0 685.0L1042.6 686.9L1043.1 688.9L1043.6 690.9L1044.1 692.9L1044.5 694.9L1044.9 696.9L1045.2 699.0L1045.5 701.0L1045.8 703.1L1046.0 705.2L1046.1 707.2L1046.2 709.3L1046.3 711.4L1046.3 713.5L1046.3 715.5L1046.2 717.6L1046.1 719.7L1045.9 721.8L1045.7 723.8L1045.4 725.9L1045.1 727.9L1044.8 730.0L1044.4 732.0L1044.0 734.0L1043.5 736.0L1043.0 738.0L1042.4 739.9L1041.8 741.9L1041.2 743.8L1040.5 745.7L1039.8 747.6L1039.0 749.5L1038.2 751.3L1037.4 753.1L1036.5 754.9L1035.5 756.6L1034.6 758.4L1033.6 760.1L1032.6 761.7L1031.5 763.4L1030.4 764.9L1029.2 766.5L1028.1 768.0L1026.9 769.5L1025.6 771.0L1024.4 772.4L1023.1 773.7L1021.7 775.1L1020.4 776.3L1019.0 777.6L1017.6 778.8L1016.2 779.9L1014.7 781.0L1013.2 782.1L1011.7 783.1L1010.2 784.1L1008.7 785.0L1007.1 785.9L1005.5 786.7L1003.9 787.4L1002.3 788.2L1000.7 788.8L999.0 789.4L997.4 790.0L995.7 790.5L994.0 791.0L992.4 791.4L990.7 791.7L989.0 792.0L987.3 792.3L985.5 792.4L983.8 792.6L982.1 792.7L980.4 792.7L978.7 792.7L977.0 792.6L975.3 792.4L973.5 792.3L971.8 792.0L970.1 791.7L968.4 791.4L966.8 791.0L965.1 790.5L963.4 790.0L961.8 789.4L960.1 788.8L958.5 788.2L956.9 787.4L955.3 786.7L953.7 785.9L952.1 785.0L950.6 784.1L949.1 783.1L947.6 782.1L946.1 781.0L944.6 779.9L943.2 778.8L941.8 777.6L940.4 776.3L939.1 775.1L937.7 773.7L936.4 772.4L935.2 771.0L933.9 769.5L932.7 768.0L931.6 766.5L930.4 764.9L929.3 763.4L928.2 761.7L927.2 760.1L926.2 758.4L925.3 756.6L924.3 754.9L923.4 753.1L922.6 751.3L921.8 749.5L921.0 747.6L920.3 745.7L919.6 743.8L919.0 741.9L918.4 739.9L917.8 738.0L917.3 736.0L916.8 734.0L916.4 732.0L916.0 730.0L915.7 727.9L915.4 725.9L915.1 723.8L914.9 721.8L914.7 719.7L914.6 717.6L914.5 715.5L914.5 713.5L914.5 711.4L914.6 709.3L914.7 707.2L914.8 705.2L915.0 703.1L915.3 701.0L915.6 699.0L915.9 696.9L916.3 694.9L916.7 692.9L917.2 690.9L917.7 688.9L918.2 686.9L918.8 685.0L919.4 683.1L920.1 681.1L920.8 679.2L921.6 677.4L922.4 675.5L923.2 673.7L924.1 671.9L925.0 670.2L926.0 668.4L927.0 666.7L928.0 665.1L929.1 663.4L930.2 661.8L931.3 660.3L932.5 658.7L933.7 657.2L934.9 655.8L936.2 654.4L937.5 653.0L938.8 651.7L940.2 650.4L941.5 649.1L943.0 647.9L944.4 646.8L945.9 645.7L947.3 644.6L948.8 643.6L950.4 642.6L951.9 641.7L953.5 640.8L955.1 640.0L956.7 639.2L958.3 638.5L960.0 637.8"/>
<path class="b" d="M980.4 594.2L983.0 594.3L985.6 594.4L988.2 594.6L990.8 594.9L993.4 595.2L996.0 595.7L998.5 596.2L1001.1 596.8L1003.6 597.5L1006.1 598.3L1008.6 599.1L1011.1 600.1L1013.6 601.1L1016.0 602.2L1018.4 603.3L1020.8 604.6L1023.2 605.9L1025.5 607.3L1027.8 608.7L1030.1 610.3L1032.3 611.9L1034.5 613.5L1036.7 615.3L1038.8 617.1L1040.9 619.0L1042.9 620.9L1044.9 622.9L1046.8 625.0L1048.7 627.1L1050.6 629.3L1052.4 631.5L1054.1 633.8L1055.8 636.2L1057.5 638.6L1059.1 641.0L1060.6 643.5L1062.1 646.1L1063.6 648.7L1064.9 651.3L1066.2 654.0L1067.5 656.8L1068.7 659.5L1069.8 662.3L1070.9 665.2L1071.9 668.0L1072.9 670.9L1073.7 673.9L1074.6 676.8L1075.3 679.8L1076.0 682.8L1076.6 685.8L1077.2 688.9L1077.7 691.9L1078.1 695.0L1078.5 698.1L1078.8 701.2L1079.0 704.3L1079.1 707.4L1079.2 710.5L1079.2 713.6L1079.2 716.8L1079.1 719.9L1078.9 723.0L1078.6 726.1L1078.3 729.2L1077.9 732.3L1077.5 735.3L1077.0 738.4L1076.4 741.4L1075.7 744.4L1075.0 747.4L1074.2 750.4L1073.4 753.4L1072.5 756.3L1071.5 759.2L1070.5 762.0L1069.4 764.8L1068.2 767.6L1067.0 770.4L1065.7 773.1L1064.4 775.8L1063.0 778.4L1061.6 781.0L1060.1 783.5L1058.5 786.0L1056.9 788.5L1055.3 790.8L1053.6 793.2L1051.8 795.5L1050.0 797.7L1048.2 799.8L1046.3 802.0L1044.3 804.0L1042.3 806.0L1040.3 807.9L1038.2 809.8L1036.1 811.6L1034.0 813.3L1031.8 814.9L1029.6 816.5L1027.3 818.0L1025.0 819.5L1022.7 820.8L1020.4 822.1L1018.0 823.4L1015.6 824.5L1013.2 825.6L1010.8 826.6L1008.3 827.5L1005.8 828.4L1003.3 829.1L1000.8 829.8L998.3 830.4L995.8 830.9L993.2 831.4L990.7 831.7L988.1 832.0L985.5 832.2L983.0 832.3L980.4 832.4L977.8 832.3L975.3 832.2L972.7 832.0L970.1 831.7L967.6 831.4L965.0 830.9L962.5 830.4L960.0 829.8L957.5 829.1L955.0 828.4L952.5 827.5L950.0 826.6L947.6 825.6L945.2 824.5L942.8 823.4L940.4 822.1L938.1 820.8L935.8 819.5L933.5 818.0L931.2 816.5L929.0 814.9L926.8 813.3L924.7 811.6L922.6 809.8L920.5 807.9L918.5 806.0L916.5 804.0L914.5 802.0L912.6 799.8L910.8 797.7L909.0 795.5L907.2 793.2L905.5 790.8L903.9 788.5L902.3 786.0L900.7 783.5L899.2 781.0L897.8 778.4L896.4 775.8L895.1 773.1L893.8 770.4L892.6 767.6L891.4 764.8L890.3 762.0L889.3 759.2L888.3 756.3L887.4 753.4L886.6 750.4L885.8 747.4L885.1 744.4L884.4 741.4L883.8 738.4L883.3 735.3L882.9 732.3L882.5 729.2L882.2 726.1L881.9 723.0L881.7 719.9L881.6 716.8L881.6 713.6L881.6 710.5L881.7 707.4L881.8 704.3L882.0 701.2L882.3 698.1L882.7 695.0L883.1 691.9L883.6 688.9L884.2 685.8L884.8 682.8L885.5 679.8L886.2 676.8L887.1 673.9L887.9 670.9L888.9 668.0L889.9 665.2L891.0 662.3L892.1 659.5L893.3 656.8L894.6 654.0L895.9 651.3L897.2 648.7L898.7 646.1L900.2 643.5L901.7 641.0L903.3 638.6L905.0 636.2L906.7 633.8L908.4 631.5L910.2 629.3L912.1 627.1L914.0 625.0L915.9 622.9L917.9 620.9L919.9 619.0L922.0 617.1L924.1 615.3L926.3 613.5L928.5 611.9L930.7 610.3L933.0 608.7L935.3 607.3L937.6 605.9L940.0 604.6L942.4 603.3L944.8 602.2L947.2 601.1L949.7 600.1L952.2 599.1L954.7 598.3L957.2 597.5L959.7 596.8L962.3 596.2L964.8 595.7L967.4 595.2L970.0 594.9L972.6 594.6L975.2 594.4L977.8 594.3L980.4 594.2Z"/>
<path class="b" d="M980.4 554.5L983.9 554.6L987.4 554.7L990.8 555.0L994.3 555.4L997.7 555.9L1001.2 556.5L1004.6 557.2L1008.0 558.0L1011.4 558.9L1014.8 560.0L1018.1 561.1L1021.4 562.3L1024.7 563.7L1028.0 565.1L1031.2 566.7L1034.4 568.4L1037.6 570.1L1040.7 572.0L1043.7 573.9L1046.8 576.0L1049.7 578.1L1052.7 580.3L1055.5 582.6L1058.4 585.1L1061.1 587.6L1063.9 590.2L1066.5 592.8L1069.1 595.6L1071.6 598.4L1074.1 601.3L1076.5 604.3L1078.9 607.4L1081.1 610.5L1083.3 613.8L1085.5 617.0L1087.5 620.4L1089.5 623.8L1091.4 627.3L1093.2 630.8L1095.0 634.4L1096.7 638.0L1098.2 641.7L1099.7 645.5L1101.2 649.2L1102.5 653.1L1103.8 656.9L1104.9 660.9L1106.0 664.8L1107.0 668.8L1107.9 672.8L1108.8 676.8L1109.5 680.9L1110.2 685.0L1110.7 689.1L1111.2 693.2L1111.6 697.3L1111.9 701.5L1112.1 705.6L1112.2 709.8L1112.2 713.9L1112.1 718.1L1111.9 722.2L1111.7 726.4L1111.3 730.5L1110.9 734.6L1110.4 738.7L1109.8 742.8L1109.1 746.9L1108.3 750.9L1107.4 755.0L1106.5 759.0L1105.4 762.9L1104.3 766.8L1103.1 770.7L1101.8 774.6L1100.4 778.4L1098.9 782.2L1097.4 785.9L1095.8 789.5L1094.1 793.1L1092.3 796.7L1090.5 800.2L1088.5 803.6L1086.5 807.0L1084.5 810.3L1082.3 813.6L1080.1 816.8L1077.8 819.9L1075.5 822.9L1073.1 825.9L1070.6 828.8L1068.1 831.6L1065.5 834.3L1062.8 836.9L1060.1 839.5L1057.4 842.0L1054.6 844.3L1051.7 846.6L1048.8 848.8L1045.9 851.0L1042.9 853.0L1039.8 854.9L1036.7 856.7L1033.6 858.5L1030.5 860.1L1027.3 861.6L1024.1 863.0L1020.8 864.4L1017.6 865.6L1014.3 866.7L1010.9 867.7L1007.6 868.6L1004.2 869.4L1000.9 870.1L997.5 870.7L994.1 871.2L990.7 871.6L987.2 871.9L983.8 872.0L980.4 872.1L977.0 872.0L973.6 871.9L970.1 871.6L966.7 871.2L963.3 870.7L959.9 870.1L956.6 869.4L953.2 868.6L949.9 867.7L946.5 866.7L943.2 865.6L940.0 864.4L936.7 863.0L933.5 861.6L930.3 860.1L927.2 858.5L924.1 856.7L921.0 854.9L917.9 853.0L914.9 851.0L912.0 848.8L909.1 846.6L906.2 844.3L903.4 842.0L900.7 839.5L898.0 836.9L895.3 834.3L892.7 831.6L890.2 828.8L887.7 825.9L885.3 822.9L883.0 819.9L880.7 816.8L878.5 813.6L876.3 810.3L874.3 807.0L872.3 803.6L870.3 800.2L868.5 796.7L866.7 793.1L865.0 789.5L863.4 785.9L861.9 782.2L860.4 778.4L859.0 774.6L857.7 770.7L856.5 766.8L855.4 762.9L854.3 759.0L853.4 755.0L852.5 750.9L851.7 746.9L851.0 742.8L850.4 738.7L849.9 734.6L849.5 730.5L849.1 726.4L848.9 722.2L848.7 718.1L848.6 713.9L848.6 709.8L848.7 705.6L848.9 701.5L849.2 697.3L849.6 693.2L850.1 689.1L850.6 685.0L851.3 680.9L852.0 676.8L852.9 672.8L853.8 668.8L854.8 664.8L855.9 660.9L857.0 656.9L858.3 653.1L859.6 649.2L861.1 645.5L862.6 641.7L864.1 638.0L865.8 634.4L867.6 630.8L869.4 627.3L871.3 623.8L873.3 620.4L875.3 617.0L877.5 613.8L879.7 610.5L881.9 607.4L884.3 604.3L886.7 601.3L889.2 598.4L891.7 595.6L894.3 592.8L896.9 590.2L899.7 587.6L902.4 585.1L905.3 582.6L908.1 580.3L911.1 578.1L914.0 576.0L917.1 573.9L920.1 572.0L923.2 570.1L926.4 568.4L929.6 566.7L932.8 565.1L936.1 563.7L939.4 562.3L942.7 561.1L946.0 560.0L949.4 558.9L952.8 558.0L956.2 557.2L959.6 556.5L963.1 555.9L966.5 555.4L970.0 555.0L973.4 554.7L976.9 554.6L980.4 554.5Z"/>
<path class="b" d="M980.4 514.8L984.8 514.9L989.1 515.1L993.5 515.4L997.8 515.9L1002.1 516.5L1006.4 517.3L1010.7 518.2L1015.0 519.2L1019.2 520.4L1023.5 521.7L1027.6 523.1L1031.8 524.6L1035.9 526.3L1040.0 528.1L1044.0 530.1L1048.0 532.1L1052.0 534.3L1055.9 536.7L1059.7 539.1L1063.5 541.7L1067.2 544.3L1070.9 547.1L1074.5 550.1L1078.0 553.1L1081.5 556.2L1084.9 559.5L1088.2 562.8L1091.5 566.3L1094.6 569.8L1097.7 573.5L1100.7 577.2L1103.6 581.0L1106.5 585.0L1109.2 589.0L1111.9 593.1L1114.5 597.3L1116.9 601.6L1119.3 605.9L1121.6 610.3L1123.8 614.8L1125.9 619.4L1127.8 624.0L1129.7 628.7L1131.5 633.4L1133.2 638.2L1134.7 643.0L1136.2 647.9L1137.5 652.9L1138.8 657.8L1139.9 662.8L1140.9 667.9L1141.9 673.0L1142.7 678.1L1143.3 683.2L1143.9 688.4L1144.4 693.5L1144.7 698.7L1145.0 703.9L1145.1 709.1L1145.1 714.3L1145.0 719.5L1144.8 724.7L1144.5 729.8L1144.1 735.0L1143.5 740.2L1142.8 745.3L1142.1 750.4L1141.2 755.5L1140.2 760.5L1139.1 765.6L1137.9 770.5L1136.6 775.5L1135.2 780.4L1133.7 785.3L1132.0 790.1L1130.3 794.8L1128.5 799.5L1126.5 804.2L1124.5 808.7L1122.4 813.2L1120.2 817.7L1117.8 822.1L1115.4 826.4L1112.9 830.6L1110.3 834.7L1107.7 838.8L1104.9 842.7L1102.0 846.6L1099.1 850.4L1096.1 854.1L1093.0 857.7L1089.9 861.2L1086.6 864.6L1083.3 867.9L1079.9 871.1L1076.5 874.2L1073.0 877.2L1069.4 880.0L1065.8 882.8L1062.1 885.4L1058.4 887.9L1054.6 890.3L1050.7 892.6L1046.8 894.8L1042.9 896.8L1038.9 898.7L1034.9 900.5L1030.9 902.2L1026.8 903.7L1022.7 905.1L1018.5 906.3L1014.3 907.5L1010.1 908.5L1005.9 909.4L1001.7 910.1L997.5 910.7L993.2 911.2L988.9 911.5L984.7 911.7L980.4 911.8L976.1 911.7L971.9 911.5L967.6 911.2L963.3 910.7L959.1 910.1L954.9 909.4L950.7 908.5L946.5 907.5L942.3 906.3L938.1 905.1L934.0 903.7L929.9 902.2L925.9 900.5L921.9 898.7L917.9 896.8L914.0 894.8L910.1 892.6L906.2 890.3L902.4 887.9L898.7 885.4L895.0 882.8L891.4 880.0L887.8 877.2L884.3 874.2L880.9 871.1L877.5 867.9L874.2 864.6L870.9 861.2L867.8 857.7L864.7 854.1L861.7 850.4L858.8 846.6L855.9 842.7L853.1 838.8L850.5 834.7L847.9 830.6L845.4 826.4L843.0 822.1L840.6 817.7L838.4 813.2L836.3 808.7L834.3 804.2L832.3 799.5L830.5 794.8L828.8 790.1L827.1 785.3L825.6 780.4L824.2 775.5L822.9 770.5L821.7 765.6L820.6 760.5L819.6 755.5L818.7 750.4L818.0 745.3L817.3 740.2L816.7 735.0L816.3 729.8L816.0 724.7L815.8 719.5L815.7 714.3L815.7 709.1L815.8 703.9L816.1 698.7L816.4 693.5L816.9 688.4L817.5 683.2L818.1 678.1L818.9 673.0L819.9 667.9L820.9 662.8L822.0 657.8L823.3 652.9L824.6 647.9L826.1 643.0L827.6 638.2L829.3 633.4L831.1 628.7L833.0 624.0L834.9 619.4L837.0 614.8L839.2 610.3L841.5 605.9L843.9 601.6L846.3 597.3L848.9 593.1L851.6 589.0L854.3 585.0L857.2 581.0L860.1 577.2L863.1 573.5L866.2 569.8L869.3 566.3L872.6 562.8L875.9 559.5L879.3 556.2L882.8 553.1L886.3 550.1L889.9 547.1L893.6 544.3L897.3 541.7L901.1 539.1L904.9 536.7L908.8 534.3L912.8 532.1L916.8 530.1L920.8 528.1L924.9 526.3L929.0 524.6L933.2 523.1L937.3 521.7L941.6 520.4L945.8 519.2L950.1 518.2L954.4 517.3L958.7 516.5L963.0 515.9L967.3 515.4L971.7 515.1L976.0 514.9L980.4 514.8Z"/>
<path class="b" d="M980.4 475.1L985.6 475.2L990.9 475.5L996.1 475.9L1001.3 476.4L1006.5 477.2L1011.7 478.1L1016.9 479.2L1022.0 480.4L1027.1 481.8L1032.2 483.3L1037.2 485.1L1042.2 486.9L1047.2 489.0L1052.1 491.1L1056.9 493.5L1061.7 496.0L1066.5 498.6L1071.1 501.4L1075.8 504.3L1080.3 507.4L1084.8 510.6L1089.2 514.0L1093.5 517.5L1097.8 521.1L1101.9 524.9L1106.0 528.8L1110.0 532.8L1113.9 537.0L1117.7 541.2L1121.4 545.6L1125.0 550.1L1128.5 554.7L1131.9 559.5L1135.2 564.3L1138.4 569.2L1141.5 574.3L1144.4 579.4L1147.3 584.6L1150.0 589.9L1152.6 595.3L1155.1 600.8L1157.5 606.3L1159.7 611.9L1161.9 617.6L1163.9 623.4L1165.7 629.2L1167.5 635.1L1169.1 641.0L1170.6 647.0L1171.9 653.0L1173.1 659.0L1174.2 665.1L1175.2 671.3L1176.0 677.4L1176.7 683.6L1177.2 689.8L1177.6 696.0L1177.9 702.2L1178.1 708.5L1178.1 714.7L1177.9 720.9L1177.7 727.2L1177.3 733.4L1176.7 739.6L1176.1 745.7L1175.3 751.9L1174.3 758.0L1173.3 764.1L1172.1 770.2L1170.8 776.2L1169.3 782.2L1167.7 788.1L1166.0 794.0L1164.2 799.8L1162.2 805.6L1160.1 811.3L1157.9 816.9L1155.6 822.5L1153.2 828.0L1150.6 833.4L1147.9 838.7L1145.2 844.0L1142.3 849.1L1139.3 854.2L1136.1 859.1L1132.9 864.0L1129.6 868.8L1126.2 873.4L1122.7 877.9L1119.1 882.4L1115.4 886.7L1111.6 890.9L1107.7 895.0L1103.7 898.9L1099.7 902.7L1095.5 906.4L1091.3 910.0L1087.1 913.4L1082.7 916.7L1078.3 919.9L1073.8 922.9L1069.3 925.8L1064.7 928.5L1060.0 931.1L1055.3 933.5L1050.5 935.8L1045.7 938.0L1040.8 939.9L1036.0 941.8L1031.0 943.4L1026.1 945.0L1021.1 946.3L1016.0 947.5L1011.0 948.6L1005.9 949.5L1000.8 950.2L995.7 950.8L990.6 951.2L985.5 951.4L980.4 951.5L975.3 951.4L970.2 951.2L965.1 950.8L960.0 950.2L954.9 949.5L949.8 948.6L944.8 947.5L939.7 946.3L934.7 945.0L929.8 943.4L924.8 941.8L920.0 939.9L915.1 938.0L910.3 935.8L905.5 933.5L900.8 931.1L896.1 928.5L891.5 925.8L887.0 922.9L882.5 919.9L878.1 916.7L873.7 913.4L869.5 910.0L865.3 906.4L861.1 902.7L857.1 898.9L853.1 895.0L849.2 890.9L845.4 886.7L841.7 882.4L838.1 877.9L834.6 873.4L831.2 868.8L827.9 864.0L824.7 859.1L821.5 854.2L818.5 849.1L815.6 844.0L812.9 838.7L810.2 833.4L807.6 828.0L805.2 822.5L802.9 816.9L800.7 811.3L798.6 805.6L796.6 799.8L794.8 794.0L793.1 788.1L791.5 782.2L790.0 776.2L788.7 770.2L787.5 764.1L786.5 758.0L785.5 751.9L784.7 745.7L784.1 739.6L783.5 733.4L783.1 727.2L782.9 720.9L782.7 714.7L782.7 708.5L782.9 702.2L783.2 696.0L783.6 689.8L784.1 683.6L784.8 677.4L785.6 671.3L786.6 665.1L787.7 659.0L788.9 653.0L790.2 647.0L791.7 641.0L793.3 635.1L795.1 629.2L796.9 623.4L798.9 617.6L801.1 611.9L803.3 606.3L805.7 600.8L808.2 595.3L810.8 589.9L813.5 584.6L816.4 579.4L819.3 574.3L822.4 569.2L825.6 564.3L828.9 559.5L832.3 554.7L835.8 550.1L839.4 545.6L843.1 541.2L846.9 537.0L850.8 532.8L854.8 528.8L858.9 524.9L863.0 521.1L867.3 517.5L871.6 514.0L876.0 510.6L880.5 507.4L885.0 504.3L889.7 501.4L894.3 498.6L899.1 496.0L903.9 493.5L908.7 491.1L913.6 489.0L918.6 486.9L923.6 485.1L928.6 483.3L933.7 481.8L938.8 480.4L943.9 479.2L949.1 478.1L954.3 477.2L959.5 476.4L964.7 475.9L969.9 475.5L975.2 475.2L980.4 475.1Z"/>
<path class="b" d="M980.4 435.4L986.5 435.5L992.6 435.8L998.8 436.3L1004.9 437.0L1010.9 437.8L1017.0 438.9L1023.0 440.1L1029.0 441.6L1035.0 443.2L1040.9 445.0L1046.8 447.0L1052.7 449.2L1058.5 451.6L1064.2 454.1L1069.9 456.9L1075.5 459.8L1081.0 462.9L1086.5 466.1L1091.9 469.6L1097.2 473.2L1102.4 476.9L1107.5 480.9L1112.6 485.0L1117.6 489.2L1122.4 493.6L1127.2 498.2L1131.8 502.9L1136.4 507.7L1140.8 512.7L1145.1 517.8L1149.3 523.1L1153.4 528.5L1157.4 534.0L1161.2 539.6L1165.0 545.4L1168.5 551.3L1172.0 557.3L1175.3 563.4L1178.5 569.6L1181.5 575.9L1184.4 582.2L1187.2 588.7L1189.8 595.3L1192.3 601.9L1194.6 608.6L1196.8 615.4L1198.8 622.3L1200.7 629.2L1202.4 636.2L1204.0 643.2L1205.4 650.3L1206.6 657.4L1207.7 664.5L1208.7 671.7L1209.4 678.9L1210.1 686.2L1210.5 693.4L1210.9 700.7L1211.0 707.9L1211.0 715.2L1210.8 722.5L1210.5 729.7L1210.0 737.0L1209.4 744.2L1208.6 751.4L1207.7 758.6L1206.6 765.7L1205.3 772.9L1203.9 779.9L1202.4 787.0L1200.7 793.9L1198.8 800.8L1196.8 807.7L1194.7 814.5L1192.4 821.2L1189.9 827.9L1187.4 834.4L1184.6 840.9L1181.8 847.3L1178.8 853.6L1175.7 859.8L1172.4 865.9L1169.0 871.9L1165.5 877.8L1161.9 883.6L1158.2 889.3L1154.3 894.8L1150.3 900.2L1146.2 905.5L1142.0 910.7L1137.7 915.7L1133.2 920.6L1128.7 925.3L1124.1 930.0L1119.4 934.4L1114.6 938.7L1109.6 942.9L1104.7 946.9L1099.6 950.7L1094.4 954.4L1089.2 957.9L1083.9 961.2L1078.5 964.4L1073.1 967.4L1067.6 970.3L1062.1 972.9L1056.5 975.4L1050.8 977.7L1045.1 979.9L1039.4 981.8L1033.6 983.6L1027.8 985.2L1021.9 986.6L1016.0 987.8L1010.1 988.8L1004.2 989.7L998.3 990.3L992.3 990.8L986.4 991.1L980.4 991.2L974.4 991.1L968.5 990.8L962.5 990.3L956.6 989.7L950.7 988.8L944.8 987.8L938.9 986.6L933.0 985.2L927.2 983.6L921.4 981.8L915.7 979.9L910.0 977.7L904.3 975.4L898.7 972.9L893.2 970.3L887.7 967.4L882.3 964.4L876.9 961.2L871.6 957.9L866.4 954.4L861.2 950.7L856.1 946.9L851.2 942.9L846.2 938.7L841.4 934.4L836.7 930.0L832.1 925.3L827.6 920.6L823.1 915.7L818.8 910.7L814.6 905.5L810.5 900.2L806.5 894.8L802.6 889.3L798.9 883.6L795.3 877.8L791.8 871.9L788.4 865.9L785.1 859.8L782.0 853.6L779.0 847.3L776.2 840.9L773.4 834.4L770.9 827.9L768.4 821.2L766.1 814.5L764.0 807.7L762.0 800.8L760.1 793.9L758.4 787.0L756.9 779.9L755.5 772.9L754.2 765.7L753.1 758.6L752.2 751.4L751.4 744.2L750.8 737.0L750.3 729.7L750.0 722.5L749.8 715.2L749.8 707.9L749.9 700.7L750.3 693.4L750.7 686.2L751.4 678.9L752.1 671.7L753.1 664.5L754.2 657.4L755.4 650.3L756.8 643.2L758.4 636.2L760.1 629.2L762.0 622.3L764.0 615.4L766.2 608.6L768.5 601.9L771.0 595.3L773.6 588.7L776.4 582.2L779.3 575.9L782.3 569.6L785.5 563.4L788.8 557.3L792.3 551.3L795.8 545.4L799.6 539.6L803.4 534.0L807.4 528.5L811.5 523.1L815.7 517.8L820.0 512.7L824.4 507.7L829.0 502.9L833.6 498.2L838.4 493.6L843.2 489.2L848.2 485.0L853.3 480.9L858.4 476.9L863.6 473.2L868.9 469.6L874.3 466.1L879.8 462.9L885.3 459.8L890.9 456.9L896.6 454.1L902.3 451.6L908.1 449.2L914.0 447.0L919.9 445.0L925.8 443.2L931.8 441.6L937.8 440.1L943.8 438.9L949.9 437.8L955.9 437.0L962.0 436.3L968.2 435.8L974.3 435.5L980.4 435.4Z"/>
<path class="b" d="M980.4 395.7L987.4 395.8L994.4 396.2L1001.4 396.7L1008.4 397.5L1015.4 398.5L1022.3 399.7L1029.2 401.1L1036.1 402.8L1043.0 404.7L1049.7 406.7L1056.5 409.0L1063.2 411.5L1069.8 414.3L1076.4 417.2L1082.9 420.3L1089.3 423.6L1095.6 427.2L1101.9 430.9L1108.0 434.8L1114.1 439.0L1120.1 443.3L1126.0 447.8L1131.8 452.4L1137.4 457.3L1143.0 462.4L1148.4 467.6L1153.8 472.9L1159.0 478.5L1164.0 484.2L1169.0 490.1L1173.8 496.1L1178.4 502.3L1183.0 508.6L1187.4 515.0L1191.6 521.6L1195.7 528.4L1199.6 535.2L1203.4 542.2L1207.0 549.3L1210.5 556.5L1213.8 563.8L1217.0 571.2L1219.9 578.7L1222.8 586.3L1225.4 594.0L1227.9 601.7L1230.2 609.6L1232.3 617.5L1234.2 625.5L1236.0 633.5L1237.6 641.6L1239.0 649.7L1240.3 657.9L1241.3 666.1L1242.2 674.3L1242.9 682.6L1243.5 690.9L1243.8 699.2L1244.0 707.5L1243.9 715.8L1243.7 724.1L1243.4 732.4L1242.8 740.7L1242.1 748.9L1241.2 757.2L1240.1 765.4L1238.8 773.5L1237.4 781.7L1235.7 789.7L1234.0 797.8L1232.0 805.7L1229.9 813.6L1227.6 821.4L1225.1 829.2L1222.5 836.9L1219.7 844.5L1216.7 852.0L1213.6 859.4L1210.4 866.7L1206.9 873.9L1203.4 880.9L1199.6 887.9L1195.8 894.8L1191.8 901.5L1187.6 908.1L1183.3 914.6L1178.9 920.9L1174.3 927.1L1169.7 933.1L1164.8 939.0L1159.9 944.8L1154.8 950.3L1149.7 955.8L1144.4 961.0L1139.0 966.1L1133.5 971.0L1127.9 975.7L1122.2 980.3L1116.4 984.7L1110.5 988.9L1104.6 992.9L1098.5 996.7L1092.4 1000.4L1086.2 1003.8L1079.9 1007.0L1073.6 1010.1L1067.2 1012.9L1060.7 1015.5L1054.2 1018.0L1047.7 1020.2L1041.1 1022.2L1034.4 1024.0L1027.8 1025.6L1021.1 1027.0L1014.3 1028.2L1007.6 1029.2L1000.8 1029.9L994.0 1030.4L987.2 1030.8L980.4 1030.9L973.6 1030.8L966.8 1030.4L960.0 1029.9L953.2 1029.2L946.5 1028.2L939.7 1027.0L933.0 1025.6L926.4 1024.0L919.7 1022.2L913.1 1020.2L906.6 1018.0L900.1 1015.5L893.6 1012.9L887.2 1010.1L880.9 1007.0L874.6 1003.8L868.4 1000.4L862.3 996.7L856.2 992.9L850.3 988.9L844.4 984.7L838.6 980.3L832.9 975.7L827.3 971.0L821.8 966.1L816.4 961.0L811.1 955.8L806.0 950.3L800.9 944.8L796.0 939.0L791.1 933.1L786.5 927.1L781.9 920.9L777.5 914.6L773.2 908.1L769.0 901.5L765.0 894.8L761.2 887.9L757.4 880.9L753.9 873.9L750.4 866.7L747.2 859.4L744.1 852.0L741.1 844.5L738.3 836.9L735.7 829.2L733.2 821.4L730.9 813.6L728.8 805.7L726.8 797.8L725.1 789.7L723.4 781.7L722.0 773.5L720.7 765.4L719.6 757.2L718.7 748.9L718.0 740.7L717.4 732.4L717.1 724.1L716.9 715.8L716.8 707.5L717.0 699.2L717.3 690.9L717.9 682.6L718.6 674.3L719.5 666.1L720.5 657.9L721.8 649.7L723.2 641.6L724.8 633.5L726.6 625.5L728.5 617.5L730.6 609.6L732.9 601.7L735.4 594.0L738.0 586.3L740.9 578.7L743.8 571.2L747.0 563.8L750.3 556.5L753.8 549.3L757.4 542.2L761.2 535.2L765.1 528.4L769.2 521.6L773.4 515.0L777.8 508.6L782.4 502.3L787.0 496.1L791.8 490.1L796.8 484.2L801.8 478.5L807.0 472.9L812.4 467.6L817.8 462.4L823.4 457.3L829.0 452.4L834.8 447.8L840.7 443.3L846.7 439.0L852.8 434.8L858.9 430.9L865.2 427.2L871.5 423.6L877.9 420.3L884.4 417.2L891.0 414.3L897.6 411.5L904.3 409.0L911.1 406.7L917.8 404.7L924.7 402.8L931.6 401.1L938.5 399.7L945.4 398.5L952.4 397.5L959.4 396.7L966.4 396.2L973.4 395.8L980.4 395.7Z"/>
<path class="b" d="M980.4 356.0L988.3 356.2L996.2 356.5L1004.1 357.2L1012.0 358.0L1019.9 359.2L1027.7 360.5L1035.5 362.1L1043.2 364.0L1050.9 366.1L1058.6 368.4L1066.2 371.0L1073.7 373.9L1081.2 376.9L1088.6 380.2L1095.9 383.7L1103.1 387.5L1110.3 391.5L1117.3 395.7L1124.3 400.1L1131.1 404.8L1137.9 409.6L1144.5 414.7L1151.0 420.0L1157.4 425.5L1163.6 431.1L1169.8 437.0L1175.8 443.1L1181.6 449.3L1187.3 455.8L1192.9 462.4L1198.3 469.2L1203.5 476.1L1208.6 483.2L1213.5 490.5L1218.3 497.9L1222.9 505.5L1227.3 513.2L1231.6 521.1L1235.7 529.1L1239.5 537.2L1243.3 545.4L1246.8 553.7L1250.1 562.2L1253.3 570.7L1256.2 579.4L1259.0 588.1L1261.6 596.9L1264.0 605.8L1266.1 614.8L1268.1 623.9L1269.9 632.9L1271.5 642.1L1272.9 651.3L1274.0 660.5L1275.0 669.8L1275.8 679.1L1276.4 688.4L1276.7 697.8L1276.9 707.1L1276.9 716.4L1276.6 725.8L1276.2 735.1L1275.6 744.4L1274.7 753.7L1273.7 763.0L1272.4 772.2L1271.0 781.4L1269.4 790.5L1267.5 799.6L1265.5 808.6L1263.3 817.6L1260.9 826.4L1258.3 835.2L1255.5 844.0L1252.5 852.6L1249.4 861.1L1246.1 869.5L1242.6 877.9L1238.9 886.1L1235.0 894.2L1231.0 902.1L1226.8 910.0L1222.5 917.7L1217.9 925.2L1213.3 932.6L1208.4 939.9L1203.5 947.0L1198.3 954.0L1193.1 960.8L1187.6 967.4L1182.1 973.8L1176.4 980.1L1170.6 986.2L1164.7 992.1L1158.6 997.8L1152.4 1003.3L1146.1 1008.6L1139.7 1013.8L1133.2 1018.7L1126.6 1023.4L1119.9 1027.9L1113.1 1032.2L1106.2 1036.3L1099.3 1040.1L1092.2 1043.8L1085.1 1047.2L1077.9 1050.4L1070.6 1053.3L1063.3 1056.1L1056.0 1058.6L1048.6 1060.8L1041.1 1062.9L1033.6 1064.7L1026.1 1066.2L1018.5 1067.6L1010.9 1068.6L1003.3 1069.5L995.7 1070.1L988.0 1070.4L980.4 1070.6L972.8 1070.4L965.1 1070.1L957.5 1069.5L949.9 1068.6L942.3 1067.6L934.7 1066.2L927.2 1064.7L919.7 1062.9L912.2 1060.8L904.8 1058.6L897.5 1056.1L890.2 1053.3L882.9 1050.4L875.7 1047.2L868.6 1043.8L861.5 1040.1L854.6 1036.3L847.7 1032.2L840.9 1027.9L834.2 1023.4L827.6 1018.7L821.1 1013.8L814.7 1008.6L808.4 1003.3L802.2 997.8L796.1 992.1L790.2 986.2L784.4 980.1L778.7 973.8L773.2 967.4L767.7 960.8L762.5 954.0L757.3 947.0L752.4 939.9L747.5 932.6L742.9 925.2L738.3 917.7L734.0 910.0L729.8 902.1L725.8 894.2L721.9 886.1L718.2 877.9L714.7 869.5L711.4 861.1L708.3 852.6L705.3 844.0L702.5 835.2L699.9 826.4L697.5 817.6L695.3 808.6L693.3 799.6L691.4 790.5L689.8 781.4L688.4 772.2L687.1 763.0L686.1 753.7L685.2 744.4L684.6 735.1L684.2 725.8L683.9 716.4L683.9 707.1L684.1 697.8L684.4 688.4L685.0 679.1L685.8 669.8L686.8 660.5L687.9 651.3L689.3 642.1L690.9 632.9L692.7 623.9L694.7 614.8L696.8 605.8L699.2 596.9L701.8 588.1L704.6 579.4L707.5 570.7L710.7 562.2L714.0 553.7L717.5 545.4L721.3 537.2L725.1 529.1L729.2 521.1L733.5 513.2L737.9 505.5L742.5 497.9L747.3 490.5L752.2 483.2L757.3 476.1L762.5 469.2L767.9 462.4L773.5 455.8L779.2 449.3L785.0 443.1L791.0 437.0L797.2 431.1L803.4 425.5L809.8 420.0L816.3 414.7L822.9 409.6L829.7 404.8L836.5 400.1L843.5 395.7L850.5 391.5L857.7 387.5L864.9 383.7L872.2 380.2L879.6 376.9L887.1 373.9L894.6 371.0L902.2 368.4L909.9 366.1L917.6 364.0L925.3 362.1L933.1 360.5L940.9 359.2L948.8 358.0L956.7 357.2L964.6 356.5L972.5 356.2L980.4 356.0Z"/>
<path class="b" d="M980.4 316.3L989.2 316.5L998.0 316.9L1006.8 317.6L1015.6 318.6L1024.3 319.8L1033.1 321.3L1041.7 323.1L1050.4 325.2L1059.0 327.5L1067.5 330.2L1075.9 333.0L1084.3 336.2L1092.6 339.6L1100.9 343.3L1109.0 347.2L1117.1 351.4L1125.0 355.8L1132.9 360.5L1140.6 365.4L1148.2 370.6L1155.7 376.0L1163.1 381.7L1170.3 387.5L1177.4 393.6L1184.4 400.0L1191.2 406.5L1197.8 413.2L1204.3 420.2L1210.7 427.4L1216.9 434.7L1222.9 442.3L1228.7 450.0L1234.3 457.9L1239.8 466.0L1245.1 474.3L1250.2 482.7L1255.1 491.3L1259.8 500.0L1264.3 508.9L1268.6 517.9L1272.8 527.1L1276.7 536.3L1280.4 545.7L1283.8 555.2L1287.1 564.9L1290.2 574.6L1293.0 584.4L1295.7 594.3L1298.1 604.3L1300.2 614.3L1302.2 624.4L1304.0 634.6L1305.5 644.8L1306.8 655.1L1307.8 665.4L1308.7 675.7L1309.3 686.1L1309.7 696.4L1309.9 706.8L1309.8 717.2L1309.5 727.6L1309.0 737.9L1308.3 748.3L1307.3 758.6L1306.2 768.9L1304.8 779.1L1303.2 789.3L1301.3 799.5L1299.3 809.5L1297.0 819.5L1294.6 829.5L1291.9 839.3L1289.0 849.1L1285.9 858.8L1282.6 868.4L1279.1 877.8L1275.4 887.2L1271.5 896.4L1267.4 905.5L1263.1 914.5L1258.6 923.4L1253.9 932.0L1249.1 940.6L1244.1 949.0L1238.9 957.2L1233.5 965.3L1228.0 973.2L1222.3 980.9L1216.4 988.4L1210.4 995.8L1204.2 1002.9L1197.9 1009.9L1191.5 1016.6L1184.9 1023.2L1178.1 1029.5L1171.3 1035.7L1164.3 1041.6L1157.2 1047.3L1150.0 1052.7L1142.6 1057.9L1135.2 1062.9L1127.6 1067.7L1120.0 1072.2L1112.3 1076.5L1104.4 1080.5L1096.5 1084.3L1088.6 1087.9L1080.5 1091.2L1072.4 1094.2L1064.2 1097.0L1056.0 1099.5L1047.7 1101.7L1039.4 1103.7L1031.1 1105.5L1022.7 1106.9L1014.2 1108.1L1005.8 1109.1L997.3 1109.7L988.9 1110.1L980.4 1110.3L971.9 1110.1L963.5 1109.7L955.0 1109.1L946.6 1108.1L938.1 1106.9L929.7 1105.5L921.4 1103.7L913.1 1101.7L904.8 1099.5L896.6 1097.0L888.4 1094.2L880.3 1091.2L872.2 1087.9L864.3 1084.3L856.4 1080.5L848.5 1076.5L840.8 1072.2L833.2 1067.7L825.6 1062.9L818.2 1057.9L810.8 1052.7L803.6 1047.3L796.5 1041.6L789.5 1035.7L782.7 1029.5L775.9 1023.2L769.3 1016.6L762.9 1009.9L756.6 1002.9L750.4 995.8L744.4 988.4L738.5 980.9L732.8 973.2L727.3 965.3L721.9 957.2L716.7 949.0L711.7 940.6L706.9 932.0L702.2 923.4L697.7 914.5L693.4 905.5L689.3 896.4L685.4 887.2L681.7 877.8L678.2 868.4L674.9 858.8L671.8 849.1L668.9 839.3L666.2 829.5L663.8 819.5L661.5 809.5L659.5 799.5L657.6 789.3L656.0 779.1L654.6 768.9L653.5 758.6L652.5 748.3L651.8 737.9L651.3 727.6L651.0 717.2L650.9 706.8L651.1 696.4L651.5 686.1L652.1 675.7L653.0 665.4L654.0 655.1L655.3 644.8L656.8 634.6L658.6 624.4L660.6 614.3L662.7 604.3L665.1 594.3L667.8 584.4L670.6 574.6L673.7 564.9L677.0 555.2L680.4 545.7L684.1 536.3L688.0 527.1L692.2 517.9L696.5 508.9L701.0 500.0L705.7 491.3L710.6 482.7L715.7 474.3L721.0 466.0L726.5 457.9L732.1 450.0L737.9 442.3L743.9 434.7L750.1 427.4L756.5 420.2L763.0 413.2L769.6 406.5L776.4 400.0L783.4 393.6L790.5 387.5L797.7 381.7L805.1 376.0L812.6 370.6L820.2 365.4L827.9 360.5L835.8 355.8L843.7 351.4L851.8 347.2L859.9 343.3L868.2 339.6L876.5 336.2L884.9 333.0L893.3 330.2L901.8 327.5L910.4 325.2L919.1 323.1L927.7 321.3L936.5 319.8L945.2 318.6L954.0 317.6L962.8 316.9L971.6 316.5L980.4 316.3Z"/>
<path class="b" d="M980.4 276.6L990.1 276.8L999.8 277.3L1009.5 278.0L1019.2 279.1L1028.9 280.5L1038.5 282.2L1048.0 284.1L1057.6 286.4L1067.0 289.0L1076.4 291.9L1085.7 295.1L1095.0 298.5L1104.2 302.3L1113.2 306.3L1122.2 310.7L1131.1 315.3L1139.8 320.2L1148.5 325.3L1157.0 330.8L1165.4 336.5L1173.6 342.4L1181.7 348.6L1189.7 355.1L1197.5 361.8L1205.2 368.8L1212.7 376.0L1220.0 383.5L1227.2 391.1L1234.1 399.0L1240.9 407.1L1247.5 415.4L1253.9 424.0L1260.1 432.7L1266.2 441.6L1272.0 450.7L1277.6 460.0L1283.0 469.4L1288.1 479.0L1293.1 488.8L1297.8 498.7L1302.3 508.8L1306.6 519.0L1310.7 529.4L1314.5 539.8L1318.1 550.4L1321.4 561.1L1324.5 571.9L1327.4 582.8L1330.0 593.8L1332.4 604.8L1334.6 615.9L1336.5 627.1L1338.1 638.4L1339.5 649.7L1340.7 661.0L1341.6 672.4L1342.2 683.8L1342.7 695.2L1342.8 706.6L1342.7 718.0L1342.4 729.4L1341.8 740.8L1341.0 752.2L1340.0 763.5L1338.7 774.8L1337.1 786.1L1335.3 797.3L1333.3 808.5L1331.0 819.5L1328.5 830.5L1325.8 841.5L1322.8 852.3L1319.6 863.0L1316.2 873.7L1312.6 884.2L1308.7 894.6L1304.6 904.9L1300.3 915.0L1295.8 925.0L1291.1 934.9L1286.1 944.6L1281.0 954.2L1275.7 963.6L1270.1 972.8L1264.4 981.8L1258.5 990.7L1252.4 999.4L1246.2 1007.8L1239.7 1016.1L1233.1 1024.2L1226.3 1032.1L1219.4 1039.7L1212.3 1047.1L1205.0 1054.3L1197.6 1061.3L1190.1 1068.0L1182.4 1074.5L1174.6 1080.7L1166.7 1086.7L1158.6 1092.5L1150.4 1098.0L1142.1 1103.2L1133.7 1108.2L1125.2 1112.9L1116.7 1117.3L1108.0 1121.5L1099.2 1125.4L1090.4 1129.0L1081.5 1132.3L1072.5 1135.4L1063.5 1138.1L1054.4 1140.6L1045.2 1142.8L1036.0 1144.7L1026.8 1146.3L1017.6 1147.6L1008.3 1148.6L999.0 1149.4L989.7 1149.8L980.4 1150.0L971.1 1149.8L961.8 1149.4L952.5 1148.6L943.2 1147.6L934.0 1146.3L924.8 1144.7L915.6 1142.8L906.4 1140.6L897.3 1138.1L888.3 1135.4L879.3 1132.3L870.4 1129.0L861.6 1125.4L852.8 1121.5L844.1 1117.3L835.6 1112.9L827.1 1108.2L818.7 1103.2L810.4 1098.0L802.2 1092.5L794.1 1086.7L786.2 1080.7L778.4 1074.5L770.7 1068.0L763.2 1061.3L755.8 1054.3L748.5 1047.1L741.4 1039.7L734.5 1032.1L727.7 1024.2L721.1 1016.1L714.6 1007.8L708.4 999.4L702.3 990.7L696.4 981.8L690.7 972.8L685.1 963.6L679.8 954.2L674.7 944.6L669.7 934.9L665.0 925.0L660.5 915.0L656.2 904.9L652.1 894.6L648.2 884.2L644.6 873.7L641.2 863.0L638.0 852.3L635.0 841.5L632.3 830.5L629.8 819.5L627.5 808.5L625.5 797.3L623.7 786.1L622.1 774.8L620.8 763.5L619.8 752.2L619.0 740.8L618.4 729.4L618.1 718.0L618.0 706.6L618.1 695.2L618.6 683.8L619.2 672.4L620.1 661.0L621.3 649.7L622.7 638.4L624.3 627.1L626.2 615.9L628.4 604.8L630.8 593.8L633.4 582.8L636.3 571.9L639.4 561.1L642.7 550.4L646.3 539.8L650.1 529.4L654.2 519.0L658.5 508.8L663.0 498.7L667.7 488.8L672.7 479.0L677.8 469.4L683.2 460.0L688.8 450.7L694.6 441.6L700.7 432.7L706.9 424.0L713.3 415.4L719.9 407.1L726.7 399.0L733.6 391.1L740.8 383.5L748.1 376.0L755.6 368.8L763.3 361.8L771.1 355.1L779.1 348.6L787.2 342.4L795.4 336.5L803.8 330.8L812.3 325.3L821.0 320.2L829.7 315.3L838.6 310.7L847.6 306.3L856.6 302.3L865.8 298.5L875.1 295.1L884.4 291.9L893.8 289.0L903.2 286.4L912.8 284.1L922.3 282.2L931.9 280.5L941.6 279.1L951.3 278.0L961.0 277.3L970.7 276.8L980.4 276.6Z"/>
</g>
<text x="963.2" y="640.6" font-size="18.4" fill="#333" textLength="28.5" lengthAdjust="spacingAndGlyphs" stroke="#fff" stroke-width="0.35" paint-order="fill stroke" style="paint-order:fill stroke">100</text>
<circle cx="980.4" cy="713.3" r="3.3" fill="#fa3838"/>
<g stroke="#000" stroke-width="1.4" fill="none">
<path d="M1212 889.7H1218.6"/>
<path d="M1212 801.4H1218.6"/>
<path d="M1212 713.2H1218.6"/>
<path d="M1212 624.9H1218.6"/>
<path d="M1212 536.6H1218.6"/>
<path d="M767.2 934V941"/>
<path d="M838.3 934V941"/>
<path d="M909.4 934V941"/>
<path d="M980.5 934V941"/>
<path d="M1051.6 934V941"/>
<path d="M1122.7 934V941"/>
<path d="M1193.7 934V941"/>
</g>
<rect x="749.5" y="492.5" width="462.4" height="441.3" class="k" stroke-width="1.8"/>
<text x="1227.5" y="898.92" font-size="25.6" fill="#000" textLength="39.2" lengthAdjust="spacingAndGlyphs" stroke="#fff" stroke-width="0.5" paint-order="fill stroke" style="paint-order:fill stroke">12N</text>
<text x="1227.5" y="810.64" font-size="25.6" fill="#000" textLength="39.2" lengthAdjust="spacingAndGlyphs" stroke="#fff" stroke-width="0.5" paint-order="fill stroke" style="paint-order:fill stroke">13N</text>
<text x="1227.5" y="722.36" font-size="25.6" fill="#000" textLength="39.2" lengthAdjust="spacingAndGlyphs" stroke="#fff" stroke-width="0.5" paint-order="fill stroke" style="paint-order:fill stroke">14N</text>
<text x="1227.5" y="634.08" font-size="25.6" fill="#000" textLength="39.2" lengthAdjust="spacingAndGlyphs" stroke="#fff" stroke-width="0.5" paint-order="fill stroke" style="paint-order:fill stroke">15N</text>
<text x="1227.5" y="545.8" font-size="25.6" fill="#000" textLength="39.2" lengthAdjust="spacingAndGlyphs" stroke="#fff" stroke-width="0.5" paint-order="fill stroke" style="paint-order:fill stroke">16N</text>
<text x="743.2" y="964.2" font-size="25.3" fill="#000" textLength="50.2" lengthAdjust="spacingAndGlyphs" stroke="#fff" stroke-width="0.5" paint-order="fill stroke" style="paint-order:fill stroke">109E</text>
<text x="814.29" y="964.2" font-size="25.3" fill="#000" textLength="50.2" lengthAdjust="spacingAndGlyphs" stroke="#fff" stroke-width="0.5" paint-order="fill stroke" style="paint-order:fill stroke">110E</text>
<text x="885.38" y="964.2" font-size="25.3" fill="#000" textLength="50.2" lengthAdjust="spacingAndGlyphs" stroke="#fff" stroke-width="0.5" paint-order="fill stroke" style="paint-order:fill stroke">111E</text>
<text x="956.47" y="964.2" font-size="25.3" fill="#000" textLength="50.2" lengthAdjust="spacingAndGlyphs" stroke="#fff" stroke-width="0.5" paint-order="fill stroke" style="paint-order:fill stroke">112E</text>
<text x="1027.56" y="964.2" font-size="25.3" fill="#000" textLength="50.2" lengthAdjust="spacingAndGlyphs" stroke="#fff" stroke-width="0.5" paint-order="fill stroke" style="paint-order:fill stroke">113E</text>
<text x="1098.65" y="964.2" font-size="25.3" fill="#000" textLength="50.2" lengthAdjust="spacingAndGlyphs" stroke="#fff" stroke-width="0.5" paint-order="fill stroke" style="paint-order:fill stroke">114E</text>
<text x="1169.74" y="964.2" font-size="25.3" fill="#000" textLength="50.2" lengthAdjust="spacingAndGlyphs" stroke="#fff" stroke-width="0.5" paint-order="fill stroke" style="paint-order:fill stroke">115E</text>
<text x="14.2" y="1023.4" font-size="36" fill="#111" textLength="149.6" lengthAdjust="spacing" stroke="#fff" stroke-width="1.7" paint-order="fill stroke" style="paint-order:fill stroke">Offshore</text>
<text x="186.7" y="1023.4" font-size="36" fill="#111" textLength="136.6" lengthAdjust="spacing" stroke="#fff" stroke-width="1.7" paint-order="fill stroke" style="paint-order:fill stroke">Surface</text>
<text x="347.2" y="1023.4" font-size="36" fill="#111" textLength="67.6" lengthAdjust="spacing" stroke="#fff" stroke-width="1.7" paint-order="fill stroke" style="paint-order:fill stroke">Plot</text>
<text x="436.2" y="1023.4" font-size="36" fill="#111" textLength="36.6" lengthAdjust="spacingAndGlyphs" stroke="#fff" stroke-width="1.7" paint-order="fill stroke" style="paint-order:fill stroke">at</text>
<text x="501.2" y="1023.4" font-size="36" fill="#111" textLength="61.6" lengthAdjust="spacingAndGlyphs" stroke="#fff" stroke-width="1.7" paint-order="fill stroke" style="paint-order:fill stroke">12Z</text>
<text x="589.2" y="1023.4" font-size="36" fill="#111" textLength="22.2" lengthAdjust="spacingAndGlyphs" stroke="#fff" stroke-width="2.2" paint-order="fill stroke" style="paint-order:fill stroke">/</text>
<text x="634.2" y="1023.4" font-size="36" fill="#111" textLength="67.2" lengthAdjust="spacingAndGlyphs" stroke="#fff" stroke-width="1.7" paint-order="fill stroke" style="paint-order:fill stroke">NOV</text>
<text x="726.2" y="1023.4" font-size="36" fill="#111" textLength="55.6" lengthAdjust="spacingAndGlyphs" stroke="#fff" stroke-width="1.7" paint-order="fill stroke" style="paint-order:fill stroke">30,</text>
<text x="804.8" y="1023.4" font-size="36" fill="#111" textLength="89" lengthAdjust="spacing" stroke="#fff" stroke-width="1.7" paint-order="fill stroke" style="paint-order:fill stroke">2025</text>
<text x="1013.6" y="1017.6" font-size="16" fill="#fa3232" textLength="38.9" lengthAdjust="spacing" stroke="#fff" stroke-width="0.25" paint-order="fill stroke" style="paint-order:fill stroke">http:</text>
<text x="1082" y="1017.6" font-size="16" fill="#fa3232" textLength="99.6" lengthAdjust="spacing" stroke="#fff" stroke-width="0.25" paint-order="fill stroke" style="paint-order:fill stroke">coolwx.com</text>
<text x="1199" y="1017.6" font-size="16" fill="#fa3232" textLength="78.8" lengthAdjust="spacing" stroke="#fff" stroke-width="0.25" paint-order="fill stroke" style="paint-order:fill stroke">buoydata</text>
<text x="1058" y="1019.3" font-size="18" fill="#fa3232" textLength="9.5" lengthAdjust="spacingAndGlyphs" stroke="#fff" stroke-width="0.9" paint-order="fill stroke" style="paint-order:fill stroke">/</text>
<text x="1068.2" y="1019.3" font-size="18" fill="#fa3232" textLength="9.5" lengthAdjust="spacingAndGlyphs" stroke="#fff" stroke-width="0.9" paint-order="fill stroke" style="paint-order:fill stroke">/</text>
<text x="1186" y="1019.3" font-size="18" fill="#fa3232" textLength="9.8" lengthAdjust="spacingAndGlyphs" stroke="#fff" stroke-width="0.9" paint-order="fill stroke" style="paint-order:fill stroke">/</text>
</svg></body></html>
